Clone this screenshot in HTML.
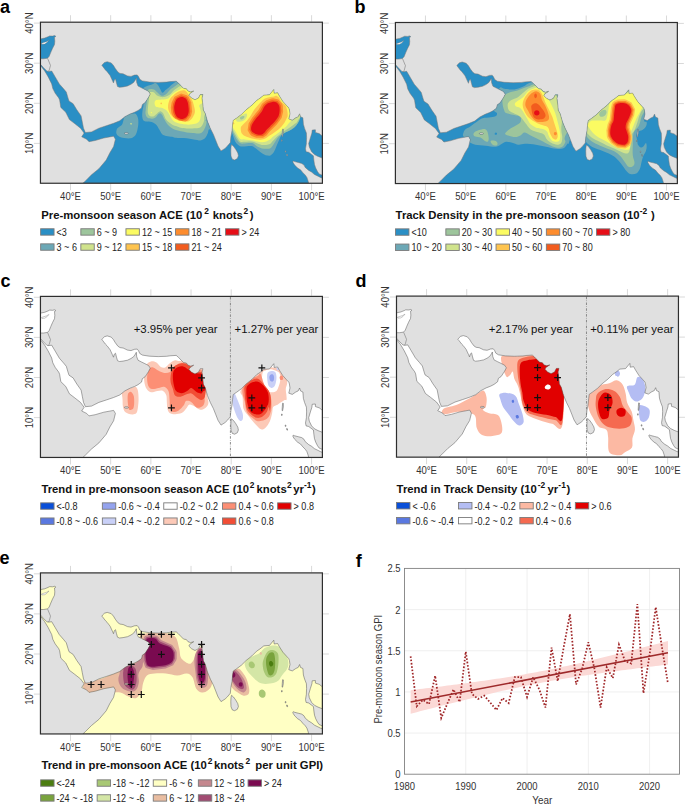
<!DOCTYPE html>
<html><head><meta charset="utf-8"><style>
html,body{margin:0;padding:0;background:#fff;}
body{width:685px;height:805px;overflow:hidden;font-family:"Liberation Sans",sans-serif;}
svg{display:block;}
</style></head><body>
<svg width="685" height="805" viewBox="0 0 685 805" font-family="Liberation Sans, sans-serif">
<defs><clipPath id="oca"><path clip-rule="evenodd" transform="translate(0 0)" d="M40.45 64.3 L43.6 67.8 L46.9 71.1 L48.8 71.4 L51.7 71 L55.2 76.9 L59.3 83.9 L63.4 88.6 L66.3 92.1 L68 97.9 L69 101 L73.1 103.7 L76.8 109.8 L81.1 115.9 L82.3 122.1 L83.5 128.2 L85.4 132.5 L91.5 131.9 L98.9 128.2 L106.2 125.8 L113.6 123.3 L119.7 120.8 L124.9 116.7 L130.1 114 L134.5 112.3 L138 110.5 L141.5 107.9 L142.4 104.4 L145 102.7 L146.8 100 L148.5 97.4 L150.3 93.9 L148.5 91.3 L145 89.5 L141.5 87.8 L138 86 L136.7 82.5 L136.3 78.1 L135.4 79.9 L133.6 82.5 L131 84.3 L127.5 86 L123.1 86.9 L119.5 87.3 L117.5 86.5 L116.5 83 L115.5 79 L114.3 80 L113.5 83 L112.4 80.5 L110.1 75.5 L107 71.5 L105.4 69.9 L102.8 66.5 L101.9 65.5 L102.5 64.4 L104.5 62.5 L107.2 61.7 L111.2 62.9 L113.5 65.5 L115.3 68.5 L117.9 72 L120 73.4 L123.1 73.8 L127.5 75.9 L131 76.4 L134.5 75.1 L137.2 74.9 L138.5 76.5 L139.8 79.3 L142.4 80.9 L149.4 82 L158.2 82.4 L166.7 82.1 L170 81.6 L176.2 81.2 L178.4 83.1 L181 85.8 L183.6 88.4 L186.3 88.8 L188 91 L190.6 91.9 L193.7 91 L189.8 93.6 L188.9 95.4 L191.5 98 L195 99.8 L198.5 98 L200.3 94.5 L202.9 94.5 L202 98 L202.9 105 L203.3 110 L205.2 113.4 L207.5 121.5 L210.4 128.5 L213.4 134.4 L215.7 140.2 L218 146.1 L221 150.9 L225 148.4 L227.4 146.1 L230.3 142.6 L230.9 136.7 L232 130.9 L232.6 125 L233.2 120.4 L236.7 118 L241.4 114.5 L246 109.9 L251.9 105.2 L256.6 100.5 L260 98.2 L263.8 95.2 L269.5 94.7 L273.8 89.5 L274.2 93.3 L277.6 92.8 L279.5 96.2 L282.8 101.4 L286.6 105.6 L288.8 108 L289.4 109.7 L290 113.8 L288.8 119 L292.3 120.2 L295.8 117.8 L298.2 116.7 L299.6 113.8 L300.5 116.7 L302.9 117.8 L303.4 124.3 L304.6 128.4 L306.4 133 L306.6 137.7 L306.4 142.4 L306.4 143.5 L305.5 148.8 L306.1 151.7 L308.7 152.3 L311 154 L313.4 155.8 L313.9 160.4 L314.5 164.5 L315.7 168 L317.5 171.5 L319.2 173.9 L322.4 175.2 L322.4 178.2 L320.4 177.4 L318 176.2 L314.5 174.5 L311.6 172.1 L308.7 170.4 L305.2 167.4 L304 165.1 L301.7 163.4 L298.2 162.5 L294.7 161.6 L293.2 161 L292.8 161.8 L293.2 162.8 L294.7 165.1 L297.6 168 L300.5 169.8 L302.9 172.7 L305.2 175 L306.9 177.4 L308.1 180.9 L308.7 183.25 L82.9 183.25 L85.4 180.9 L91.5 174.8 L98.9 168.7 L106.2 160.1 L109.9 152.7 L113.6 146.6 L115.4 139.2 L113.6 136.2 L103.8 138 L95.2 140.5 L89 141.7 L86.6 139.2 L81.7 136.8 L84.1 133.1 L80.5 128.2 L74.3 123.3 L69.4 119.6 L65.8 112.3 L60.8 107.4 L59.6 100 L58.7 97.9 L55.2 93.2 L52.8 88.6 L51.7 83.9 L48.2 76.9 L44.7 71 L41.2 66.4 L40.45 66.2Z M322.4 135.4 L321.5 135.4 L319.2 133.6 L315.4 132.4 L315.4 129.8 L312.2 130.1 L311.9 133 L310.4 137.7 L308.7 143.5 L309.3 147 L311.6 151.7 L314.5 154.6 L318 156.4 L322.4 158.1Z M40.45 38.9 L44.7 38.1 L48.1 36.7 L49.7 35.9 L52.5 36.1 L54.8 35.6 L55.9 36.4 L54.5 37.3 L54.8 41.2 L54.5 44.5 L52.5 48.4 L50.8 52.3 L49.2 56.3 L47.5 58.2 L43.6 58.8 L40.45 58.8Z M231.5 144.6 L233.5 146.3 L235.8 149.5 L237.8 153 L238.4 155.8 L237.3 158.6 L234.6 160 L232.3 159.2 L231 156 L230.8 151 L231 147Z M124.2 133.2 L125.5 132.5 L127.8 132.6 L128.6 133.4 L127.2 134.1 L125 134Z M282.6 129 L283.4 129.2 L283.3 133 L282.6 136.5 L282.1 136.4 L282.3 132.5Z M281.6 139.8 L282.2 139.9 L282.1 141.3 L281.5 141.2Z M285.3 150.8 L286 151 L285.8 152.3 L285.1 152Z M286.6 154.3 L287.4 154.5 L287.6 156 L286.8 155.8Z"/></clipPath>
<clipPath id="fra"><rect x="40.45" y="22.2" width="281.95" height="161.05"/></clipPath>
<clipPath id="ocb"><path clip-rule="evenodd" transform="translate(354.95 0.3)" d="M40.45 64.3 L43.6 67.8 L46.9 71.1 L48.8 71.4 L51.7 71 L55.2 76.9 L59.3 83.9 L63.4 88.6 L66.3 92.1 L68 97.9 L69 101 L73.1 103.7 L76.8 109.8 L81.1 115.9 L82.3 122.1 L83.5 128.2 L85.4 132.5 L91.5 131.9 L98.9 128.2 L106.2 125.8 L113.6 123.3 L119.7 120.8 L124.9 116.7 L130.1 114 L134.5 112.3 L138 110.5 L141.5 107.9 L142.4 104.4 L145 102.7 L146.8 100 L148.5 97.4 L150.3 93.9 L148.5 91.3 L145 89.5 L141.5 87.8 L138 86 L136.7 82.5 L136.3 78.1 L135.4 79.9 L133.6 82.5 L131 84.3 L127.5 86 L123.1 86.9 L119.5 87.3 L117.5 86.5 L116.5 83 L115.5 79 L114.3 80 L113.5 83 L112.4 80.5 L110.1 75.5 L107 71.5 L105.4 69.9 L102.8 66.5 L101.9 65.5 L102.5 64.4 L104.5 62.5 L107.2 61.7 L111.2 62.9 L113.5 65.5 L115.3 68.5 L117.9 72 L120 73.4 L123.1 73.8 L127.5 75.9 L131 76.4 L134.5 75.1 L137.2 74.9 L138.5 76.5 L139.8 79.3 L142.4 80.9 L149.4 82 L158.2 82.4 L166.7 82.1 L170 81.6 L176.2 81.2 L178.4 83.1 L181 85.8 L183.6 88.4 L186.3 88.8 L188 91 L190.6 91.9 L193.7 91 L189.8 93.6 L188.9 95.4 L191.5 98 L195 99.8 L198.5 98 L200.3 94.5 L202.9 94.5 L202 98 L202.9 105 L203.3 110 L205.2 113.4 L207.5 121.5 L210.4 128.5 L213.4 134.4 L215.7 140.2 L218 146.1 L221 150.9 L225 148.4 L227.4 146.1 L230.3 142.6 L230.9 136.7 L232 130.9 L232.6 125 L233.2 120.4 L236.7 118 L241.4 114.5 L246 109.9 L251.9 105.2 L256.6 100.5 L260 98.2 L263.8 95.2 L269.5 94.7 L273.8 89.5 L274.2 93.3 L277.6 92.8 L279.5 96.2 L282.8 101.4 L286.6 105.6 L288.8 108 L289.4 109.7 L290 113.8 L288.8 119 L292.3 120.2 L295.8 117.8 L298.2 116.7 L299.6 113.8 L300.5 116.7 L302.9 117.8 L303.4 124.3 L304.6 128.4 L306.4 133 L306.6 137.7 L306.4 142.4 L306.4 143.5 L305.5 148.8 L306.1 151.7 L308.7 152.3 L311 154 L313.4 155.8 L313.9 160.4 L314.5 164.5 L315.7 168 L317.5 171.5 L319.2 173.9 L322.4 175.2 L322.4 178.2 L320.4 177.4 L318 176.2 L314.5 174.5 L311.6 172.1 L308.7 170.4 L305.2 167.4 L304 165.1 L301.7 163.4 L298.2 162.5 L294.7 161.6 L293.2 161 L292.8 161.8 L293.2 162.8 L294.7 165.1 L297.6 168 L300.5 169.8 L302.9 172.7 L305.2 175 L306.9 177.4 L308.1 180.9 L308.7 183.25 L82.9 183.25 L85.4 180.9 L91.5 174.8 L98.9 168.7 L106.2 160.1 L109.9 152.7 L113.6 146.6 L115.4 139.2 L113.6 136.2 L103.8 138 L95.2 140.5 L89 141.7 L86.6 139.2 L81.7 136.8 L84.1 133.1 L80.5 128.2 L74.3 123.3 L69.4 119.6 L65.8 112.3 L60.8 107.4 L59.6 100 L58.7 97.9 L55.2 93.2 L52.8 88.6 L51.7 83.9 L48.2 76.9 L44.7 71 L41.2 66.4 L40.45 66.2Z M322.4 135.4 L321.5 135.4 L319.2 133.6 L315.4 132.4 L315.4 129.8 L312.2 130.1 L311.9 133 L310.4 137.7 L308.7 143.5 L309.3 147 L311.6 151.7 L314.5 154.6 L318 156.4 L322.4 158.1Z M40.45 38.9 L44.7 38.1 L48.1 36.7 L49.7 35.9 L52.5 36.1 L54.8 35.6 L55.9 36.4 L54.5 37.3 L54.8 41.2 L54.5 44.5 L52.5 48.4 L50.8 52.3 L49.2 56.3 L47.5 58.2 L43.6 58.8 L40.45 58.8Z M231.5 144.6 L233.5 146.3 L235.8 149.5 L237.8 153 L238.4 155.8 L237.3 158.6 L234.6 160 L232.3 159.2 L231 156 L230.8 151 L231 147Z M124.2 133.2 L125.5 132.5 L127.8 132.6 L128.6 133.4 L127.2 134.1 L125 134Z M282.6 129 L283.4 129.2 L283.3 133 L282.6 136.5 L282.1 136.4 L282.3 132.5Z M281.6 139.8 L282.2 139.9 L282.1 141.3 L281.5 141.2Z M285.3 150.8 L286 151 L285.8 152.3 L285.1 152Z M286.6 154.3 L287.4 154.5 L287.6 156 L286.8 155.8Z"/></clipPath>
<clipPath id="frb"><rect x="395.4" y="22.5" width="281.95" height="161.05"/></clipPath>
<clipPath id="occ"><path clip-rule="evenodd" transform="translate(0 274.2)" d="M40.45 64.3 L43.6 67.8 L46.9 71.1 L48.8 71.4 L51.7 71 L55.2 76.9 L59.3 83.9 L63.4 88.6 L66.3 92.1 L68 97.9 L69 101 L73.1 103.7 L76.8 109.8 L81.1 115.9 L82.3 122.1 L83.5 128.2 L85.4 132.5 L91.5 131.9 L98.9 128.2 L106.2 125.8 L113.6 123.3 L119.7 120.8 L124.9 116.7 L130.1 114 L134.5 112.3 L138 110.5 L141.5 107.9 L142.4 104.4 L145 102.7 L146.8 100 L148.5 97.4 L150.3 93.9 L148.5 91.3 L145 89.5 L141.5 87.8 L138 86 L136.7 82.5 L136.3 78.1 L135.4 79.9 L133.6 82.5 L131 84.3 L127.5 86 L123.1 86.9 L119.5 87.3 L117.5 86.5 L116.5 83 L115.5 79 L114.3 80 L113.5 83 L112.4 80.5 L110.1 75.5 L107 71.5 L105.4 69.9 L102.8 66.5 L101.9 65.5 L102.5 64.4 L104.5 62.5 L107.2 61.7 L111.2 62.9 L113.5 65.5 L115.3 68.5 L117.9 72 L120 73.4 L123.1 73.8 L127.5 75.9 L131 76.4 L134.5 75.1 L137.2 74.9 L138.5 76.5 L139.8 79.3 L142.4 80.9 L149.4 82 L158.2 82.4 L166.7 82.1 L170 81.6 L176.2 81.2 L178.4 83.1 L181 85.8 L183.6 88.4 L186.3 88.8 L188 91 L190.6 91.9 L193.7 91 L189.8 93.6 L188.9 95.4 L191.5 98 L195 99.8 L198.5 98 L200.3 94.5 L202.9 94.5 L202 98 L202.9 105 L203.3 110 L205.2 113.4 L207.5 121.5 L210.4 128.5 L213.4 134.4 L215.7 140.2 L218 146.1 L221 150.9 L225 148.4 L227.4 146.1 L230.3 142.6 L230.9 136.7 L232 130.9 L232.6 125 L233.2 120.4 L236.7 118 L241.4 114.5 L246 109.9 L251.9 105.2 L256.6 100.5 L260 98.2 L263.8 95.2 L269.5 94.7 L273.8 89.5 L274.2 93.3 L277.6 92.8 L279.5 96.2 L282.8 101.4 L286.6 105.6 L288.8 108 L289.4 109.7 L290 113.8 L288.8 119 L292.3 120.2 L295.8 117.8 L298.2 116.7 L299.6 113.8 L300.5 116.7 L302.9 117.8 L303.4 124.3 L304.6 128.4 L306.4 133 L306.6 137.7 L306.4 142.4 L306.4 143.5 L305.5 148.8 L306.1 151.7 L308.7 152.3 L311 154 L313.4 155.8 L313.9 160.4 L314.5 164.5 L315.7 168 L317.5 171.5 L319.2 173.9 L322.4 175.2 L322.4 178.2 L320.4 177.4 L318 176.2 L314.5 174.5 L311.6 172.1 L308.7 170.4 L305.2 167.4 L304 165.1 L301.7 163.4 L298.2 162.5 L294.7 161.6 L293.2 161 L292.8 161.8 L293.2 162.8 L294.7 165.1 L297.6 168 L300.5 169.8 L302.9 172.7 L305.2 175 L306.9 177.4 L308.1 180.9 L308.7 183.25 L82.9 183.25 L85.4 180.9 L91.5 174.8 L98.9 168.7 L106.2 160.1 L109.9 152.7 L113.6 146.6 L115.4 139.2 L113.6 136.2 L103.8 138 L95.2 140.5 L89 141.7 L86.6 139.2 L81.7 136.8 L84.1 133.1 L80.5 128.2 L74.3 123.3 L69.4 119.6 L65.8 112.3 L60.8 107.4 L59.6 100 L58.7 97.9 L55.2 93.2 L52.8 88.6 L51.7 83.9 L48.2 76.9 L44.7 71 L41.2 66.4 L40.45 66.2Z M322.4 135.4 L321.5 135.4 L319.2 133.6 L315.4 132.4 L315.4 129.8 L312.2 130.1 L311.9 133 L310.4 137.7 L308.7 143.5 L309.3 147 L311.6 151.7 L314.5 154.6 L318 156.4 L322.4 158.1Z M40.45 38.9 L44.7 38.1 L48.1 36.7 L49.7 35.9 L52.5 36.1 L54.8 35.6 L55.9 36.4 L54.5 37.3 L54.8 41.2 L54.5 44.5 L52.5 48.4 L50.8 52.3 L49.2 56.3 L47.5 58.2 L43.6 58.8 L40.45 58.8Z M231.5 144.6 L233.5 146.3 L235.8 149.5 L237.8 153 L238.4 155.8 L237.3 158.6 L234.6 160 L232.3 159.2 L231 156 L230.8 151 L231 147Z M124.2 133.2 L125.5 132.5 L127.8 132.6 L128.6 133.4 L127.2 134.1 L125 134Z M282.6 129 L283.4 129.2 L283.3 133 L282.6 136.5 L282.1 136.4 L282.3 132.5Z M281.6 139.8 L282.2 139.9 L282.1 141.3 L281.5 141.2Z M285.3 150.8 L286 151 L285.8 152.3 L285.1 152Z M286.6 154.3 L287.4 154.5 L287.6 156 L286.8 155.8Z"/></clipPath>
<clipPath id="frc"><rect x="40.45" y="296.4" width="281.95" height="161.05"/></clipPath>
<clipPath id="ocd"><path clip-rule="evenodd" transform="translate(356.05 273.9)" d="M40.45 64.3 L43.6 67.8 L46.9 71.1 L48.8 71.4 L51.7 71 L55.2 76.9 L59.3 83.9 L63.4 88.6 L66.3 92.1 L68 97.9 L69 101 L73.1 103.7 L76.8 109.8 L81.1 115.9 L82.3 122.1 L83.5 128.2 L85.4 132.5 L91.5 131.9 L98.9 128.2 L106.2 125.8 L113.6 123.3 L119.7 120.8 L124.9 116.7 L130.1 114 L134.5 112.3 L138 110.5 L141.5 107.9 L142.4 104.4 L145 102.7 L146.8 100 L148.5 97.4 L150.3 93.9 L148.5 91.3 L145 89.5 L141.5 87.8 L138 86 L136.7 82.5 L136.3 78.1 L135.4 79.9 L133.6 82.5 L131 84.3 L127.5 86 L123.1 86.9 L119.5 87.3 L117.5 86.5 L116.5 83 L115.5 79 L114.3 80 L113.5 83 L112.4 80.5 L110.1 75.5 L107 71.5 L105.4 69.9 L102.8 66.5 L101.9 65.5 L102.5 64.4 L104.5 62.5 L107.2 61.7 L111.2 62.9 L113.5 65.5 L115.3 68.5 L117.9 72 L120 73.4 L123.1 73.8 L127.5 75.9 L131 76.4 L134.5 75.1 L137.2 74.9 L138.5 76.5 L139.8 79.3 L142.4 80.9 L149.4 82 L158.2 82.4 L166.7 82.1 L170 81.6 L176.2 81.2 L178.4 83.1 L181 85.8 L183.6 88.4 L186.3 88.8 L188 91 L190.6 91.9 L193.7 91 L189.8 93.6 L188.9 95.4 L191.5 98 L195 99.8 L198.5 98 L200.3 94.5 L202.9 94.5 L202 98 L202.9 105 L203.3 110 L205.2 113.4 L207.5 121.5 L210.4 128.5 L213.4 134.4 L215.7 140.2 L218 146.1 L221 150.9 L225 148.4 L227.4 146.1 L230.3 142.6 L230.9 136.7 L232 130.9 L232.6 125 L233.2 120.4 L236.7 118 L241.4 114.5 L246 109.9 L251.9 105.2 L256.6 100.5 L260 98.2 L263.8 95.2 L269.5 94.7 L273.8 89.5 L274.2 93.3 L277.6 92.8 L279.5 96.2 L282.8 101.4 L286.6 105.6 L288.8 108 L289.4 109.7 L290 113.8 L288.8 119 L292.3 120.2 L295.8 117.8 L298.2 116.7 L299.6 113.8 L300.5 116.7 L302.9 117.8 L303.4 124.3 L304.6 128.4 L306.4 133 L306.6 137.7 L306.4 142.4 L306.4 143.5 L305.5 148.8 L306.1 151.7 L308.7 152.3 L311 154 L313.4 155.8 L313.9 160.4 L314.5 164.5 L315.7 168 L317.5 171.5 L319.2 173.9 L322.4 175.2 L322.4 178.2 L320.4 177.4 L318 176.2 L314.5 174.5 L311.6 172.1 L308.7 170.4 L305.2 167.4 L304 165.1 L301.7 163.4 L298.2 162.5 L294.7 161.6 L293.2 161 L292.8 161.8 L293.2 162.8 L294.7 165.1 L297.6 168 L300.5 169.8 L302.9 172.7 L305.2 175 L306.9 177.4 L308.1 180.9 L308.7 183.25 L82.9 183.25 L85.4 180.9 L91.5 174.8 L98.9 168.7 L106.2 160.1 L109.9 152.7 L113.6 146.6 L115.4 139.2 L113.6 136.2 L103.8 138 L95.2 140.5 L89 141.7 L86.6 139.2 L81.7 136.8 L84.1 133.1 L80.5 128.2 L74.3 123.3 L69.4 119.6 L65.8 112.3 L60.8 107.4 L59.6 100 L58.7 97.9 L55.2 93.2 L52.8 88.6 L51.7 83.9 L48.2 76.9 L44.7 71 L41.2 66.4 L40.45 66.2Z M322.4 135.4 L321.5 135.4 L319.2 133.6 L315.4 132.4 L315.4 129.8 L312.2 130.1 L311.9 133 L310.4 137.7 L308.7 143.5 L309.3 147 L311.6 151.7 L314.5 154.6 L318 156.4 L322.4 158.1Z M40.45 38.9 L44.7 38.1 L48.1 36.7 L49.7 35.9 L52.5 36.1 L54.8 35.6 L55.9 36.4 L54.5 37.3 L54.8 41.2 L54.5 44.5 L52.5 48.4 L50.8 52.3 L49.2 56.3 L47.5 58.2 L43.6 58.8 L40.45 58.8Z M231.5 144.6 L233.5 146.3 L235.8 149.5 L237.8 153 L238.4 155.8 L237.3 158.6 L234.6 160 L232.3 159.2 L231 156 L230.8 151 L231 147Z M124.2 133.2 L125.5 132.5 L127.8 132.6 L128.6 133.4 L127.2 134.1 L125 134Z M282.6 129 L283.4 129.2 L283.3 133 L282.6 136.5 L282.1 136.4 L282.3 132.5Z M281.6 139.8 L282.2 139.9 L282.1 141.3 L281.5 141.2Z M285.3 150.8 L286 151 L285.8 152.3 L285.1 152Z M286.6 154.3 L287.4 154.5 L287.6 156 L286.8 155.8Z"/></clipPath>
<clipPath id="frd"><rect x="396.5" y="296.1" width="281.95" height="161.05"/></clipPath>
<clipPath id="oce"><path clip-rule="evenodd" transform="translate(0 550.7)" d="M40.45 64.3 L43.6 67.8 L46.9 71.1 L48.8 71.4 L51.7 71 L55.2 76.9 L59.3 83.9 L63.4 88.6 L66.3 92.1 L68 97.9 L69 101 L73.1 103.7 L76.8 109.8 L81.1 115.9 L82.3 122.1 L83.5 128.2 L85.4 132.5 L91.5 131.9 L98.9 128.2 L106.2 125.8 L113.6 123.3 L119.7 120.8 L124.9 116.7 L130.1 114 L134.5 112.3 L138 110.5 L141.5 107.9 L142.4 104.4 L145 102.7 L146.8 100 L148.5 97.4 L150.3 93.9 L148.5 91.3 L145 89.5 L141.5 87.8 L138 86 L136.7 82.5 L136.3 78.1 L135.4 79.9 L133.6 82.5 L131 84.3 L127.5 86 L123.1 86.9 L119.5 87.3 L117.5 86.5 L116.5 83 L115.5 79 L114.3 80 L113.5 83 L112.4 80.5 L110.1 75.5 L107 71.5 L105.4 69.9 L102.8 66.5 L101.9 65.5 L102.5 64.4 L104.5 62.5 L107.2 61.7 L111.2 62.9 L113.5 65.5 L115.3 68.5 L117.9 72 L120 73.4 L123.1 73.8 L127.5 75.9 L131 76.4 L134.5 75.1 L137.2 74.9 L138.5 76.5 L139.8 79.3 L142.4 80.9 L149.4 82 L158.2 82.4 L166.7 82.1 L170 81.6 L176.2 81.2 L178.4 83.1 L181 85.8 L183.6 88.4 L186.3 88.8 L188 91 L190.6 91.9 L193.7 91 L189.8 93.6 L188.9 95.4 L191.5 98 L195 99.8 L198.5 98 L200.3 94.5 L202.9 94.5 L202 98 L202.9 105 L203.3 110 L205.2 113.4 L207.5 121.5 L210.4 128.5 L213.4 134.4 L215.7 140.2 L218 146.1 L221 150.9 L225 148.4 L227.4 146.1 L230.3 142.6 L230.9 136.7 L232 130.9 L232.6 125 L233.2 120.4 L236.7 118 L241.4 114.5 L246 109.9 L251.9 105.2 L256.6 100.5 L260 98.2 L263.8 95.2 L269.5 94.7 L273.8 89.5 L274.2 93.3 L277.6 92.8 L279.5 96.2 L282.8 101.4 L286.6 105.6 L288.8 108 L289.4 109.7 L290 113.8 L288.8 119 L292.3 120.2 L295.8 117.8 L298.2 116.7 L299.6 113.8 L300.5 116.7 L302.9 117.8 L303.4 124.3 L304.6 128.4 L306.4 133 L306.6 137.7 L306.4 142.4 L306.4 143.5 L305.5 148.8 L306.1 151.7 L308.7 152.3 L311 154 L313.4 155.8 L313.9 160.4 L314.5 164.5 L315.7 168 L317.5 171.5 L319.2 173.9 L322.4 175.2 L322.4 178.2 L320.4 177.4 L318 176.2 L314.5 174.5 L311.6 172.1 L308.7 170.4 L305.2 167.4 L304 165.1 L301.7 163.4 L298.2 162.5 L294.7 161.6 L293.2 161 L292.8 161.8 L293.2 162.8 L294.7 165.1 L297.6 168 L300.5 169.8 L302.9 172.7 L305.2 175 L306.9 177.4 L308.1 180.9 L308.7 183.25 L82.9 183.25 L85.4 180.9 L91.5 174.8 L98.9 168.7 L106.2 160.1 L109.9 152.7 L113.6 146.6 L115.4 139.2 L113.6 136.2 L103.8 138 L95.2 140.5 L89 141.7 L86.6 139.2 L81.7 136.8 L84.1 133.1 L80.5 128.2 L74.3 123.3 L69.4 119.6 L65.8 112.3 L60.8 107.4 L59.6 100 L58.7 97.9 L55.2 93.2 L52.8 88.6 L51.7 83.9 L48.2 76.9 L44.7 71 L41.2 66.4 L40.45 66.2Z M322.4 135.4 L321.5 135.4 L319.2 133.6 L315.4 132.4 L315.4 129.8 L312.2 130.1 L311.9 133 L310.4 137.7 L308.7 143.5 L309.3 147 L311.6 151.7 L314.5 154.6 L318 156.4 L322.4 158.1Z M40.45 38.9 L44.7 38.1 L48.1 36.7 L49.7 35.9 L52.5 36.1 L54.8 35.6 L55.9 36.4 L54.5 37.3 L54.8 41.2 L54.5 44.5 L52.5 48.4 L50.8 52.3 L49.2 56.3 L47.5 58.2 L43.6 58.8 L40.45 58.8Z M231.5 144.6 L233.5 146.3 L235.8 149.5 L237.8 153 L238.4 155.8 L237.3 158.6 L234.6 160 L232.3 159.2 L231 156 L230.8 151 L231 147Z M124.2 133.2 L125.5 132.5 L127.8 132.6 L128.6 133.4 L127.2 134.1 L125 134Z M282.6 129 L283.4 129.2 L283.3 133 L282.6 136.5 L282.1 136.4 L282.3 132.5Z M281.6 139.8 L282.2 139.9 L282.1 141.3 L281.5 141.2Z M285.3 150.8 L286 151 L285.8 152.3 L285.1 152Z M286.6 154.3 L287.4 154.5 L287.6 156 L286.8 155.8Z"/></clipPath>
<clipPath id="fre"><rect x="40.45" y="572.9" width="281.95" height="161.05"/></clipPath></defs>
<rect x="40.45" y="22.2" width="281.95" height="161.05" fill="#e0e0e0"/>
<g clip-path="url(#oca)">
<rect x="40.45" y="22.2" width="281.95" height="161.05" fill="#2a8fc5"/>
<path fill="#6ca8b6" d="M143 88.5 C143.83 87.58 144.92 87.03 146 86.5 C147.08 85.97 148.33 85.72 149.5 85.3 C150.67 84.88 152 84.38 153 84 C154 83.62 154.75 82.92 155.5 83 C156.25 83.08 156.85 83.77 157.5 84.5 C158.15 85.23 158.78 86.32 159.4 87.4 C160.02 88.48 160.72 90.1 161.2 91 C161.68 91.9 161.87 92.63 162.3 92.8 C162.73 92.97 163.32 92.42 163.8 92 C164.28 91.58 164.58 90.88 165.2 90.3 C165.82 89.72 166.77 89.1 167.5 88.5 C168.23 87.9 168.85 87.37 169.6 86.7 C170.35 86.03 171.27 85.12 172 84.5 C172.73 83.88 173.33 83.55 174 83 C174.67 82.45 175 81.87 176 81.2 C177 80.53 176 78.37 180 79 C184 79.63 194.17 79.83 200 85 C205.83 90.17 213 102.83 215 110 C217 117.17 213.02 124.75 212 128 C210.98 131.25 209.62 128.57 208.9 129.5 C208.18 130.43 208.28 132.23 207.7 133.6 C207.12 134.97 206.28 136.68 205.4 137.7 C204.52 138.72 203.28 139.22 202.4 139.7 C201.52 140.18 200.97 140.55 200.1 140.6 C199.23 140.65 198.47 140.23 197.2 140 C195.93 139.77 194.25 139.48 192.5 139.2 C190.75 138.92 188.65 138.5 186.7 138.3 C184.75 138.1 182.75 138.1 180.8 138 C178.85 137.9 176.45 137.9 175 137.7 C173.55 137.5 173.55 137.1 172.1 136.8 C170.65 136.5 167.95 136.33 166.3 135.9 C164.65 135.47 163.37 135.27 162.2 134.2 C161.03 133.13 160.27 131.05 159.3 129.5 C158.33 127.95 157.67 126.17 156.4 124.9 C155.13 123.63 153.47 122.48 151.7 121.9 C149.93 121.32 147.2 121.67 145.8 121.4 C144.4 121.13 143.9 121.2 143.3 120.3 C142.7 119.4 142.32 117.72 142.2 116 C142.08 114.28 142.38 112 142.6 110 C142.82 108 143.93 105.67 143.5 104 C143.07 102.33 140.42 102 140 100 C139.58 98 140.5 93.92 141 92 C141.5 90.08 142.17 89.42 143 88.5Z"/>
<path fill="#6ca8b6" d="M116.8 129.2 C117.23 128.1 118.15 127.73 119 127 C119.85 126.27 121.17 125.9 121.9 124.8 C122.63 123.7 123.03 121.62 123.4 120.4 C123.77 119.18 123.67 118.57 124.1 117.5 C124.53 116.43 124.85 115 126 114 C127.15 113 129.98 111.57 131 111.5 C132.02 111.43 131.3 113.2 132.1 113.6 C132.9 114 134.82 113.13 135.8 113.9 C136.78 114.67 137.58 116.5 138 118.2 C138.42 119.9 138.43 122.02 138.3 124.1 C138.17 126.18 137.75 128.75 137.2 130.7 C136.65 132.65 136.08 134.53 135 135.8 C133.92 137.07 132.52 137.93 130.7 138.3 C128.88 138.67 126.05 138.3 124.1 138 C122.15 137.7 120.28 137.23 119 136.5 C117.72 135.77 116.77 134.82 116.4 133.6 C116.03 132.38 116.37 130.3 116.8 129.2Z"/>
<path fill="#d0e38c" d="M130.4 123.3 C130.57 123.08 131.15 122.9 131.4 123 C131.65 123.1 131.93 123.63 131.9 123.9 C131.87 124.17 131.45 124.53 131.2 124.6 C130.95 124.67 130.53 124.52 130.4 124.3 C130.27 124.08 130.23 123.52 130.4 123.3Z"/>
<path fill="#9dc59c" d="M147.5 90.5 C148.12 89.33 149.82 89.17 150.9 89 C151.98 88.83 152.9 88.92 154 89.5 C155.1 90.08 156.23 91.45 157.5 92.5 C158.77 93.55 160.18 95.5 161.6 95.8 C163.02 96.1 164.55 95.33 166 94.3 C167.45 93.27 168.73 90.98 170.3 89.6 C171.87 88.22 174.05 86.97 175.4 86 C176.75 85.03 177.3 84.47 178.4 83.8 C179.5 83.13 178.4 81.3 182 82 C185.6 82.7 195 83 200 88 C205 93 211.02 106.73 212 112 C212.98 117.27 206.82 117.95 205.9 119.6 C204.98 121.25 206.5 120.93 206.5 121.9 C206.5 122.87 206.28 124.13 205.9 125.4 C205.52 126.67 204.87 128.33 204.2 129.5 C203.53 130.67 202.87 131.72 201.9 132.4 C200.93 133.08 199.97 133.5 198.4 133.6 C196.83 133.7 194.45 133.2 192.5 133 C190.55 132.8 188.65 132.68 186.7 132.4 C184.75 132.12 182.75 131.73 180.8 131.3 C178.85 130.87 176.65 130.43 175 129.8 C173.35 129.17 172.17 128.42 170.9 127.5 C169.63 126.58 168.47 125.62 167.4 124.3 C166.33 122.98 165.37 121.17 164.5 119.6 C163.63 118.03 162.93 115.97 162.2 114.9 C161.47 113.83 160.78 113.3 160.1 113.2 C159.42 113.1 158.82 113.62 158.1 114.3 C157.38 114.98 156.77 116.57 155.8 117.3 C154.83 118.03 153.67 118.62 152.3 118.7 C150.93 118.78 148.72 118.53 147.6 117.8 C146.48 117.07 145.9 115.77 145.6 114.3 C145.3 112.83 145.6 111.05 145.8 109 C146 106.95 146.57 104.17 146.8 102 C147.03 99.83 147.08 97.92 147.2 96 C147.32 94.08 146.88 91.67 147.5 90.5Z"/>
<path fill="#d0e38c" d="M149.4 93 C149.8 91.83 150.63 92.08 151.4 92 C152.17 91.92 153.07 91.92 154 92.5 C154.93 93.08 155.92 94.78 157 95.5 C158.08 96.22 159.33 96.55 160.5 96.8 C161.67 97.05 162.48 97.35 164 97 C165.52 96.65 167.93 95.82 169.6 94.7 C171.27 93.58 172.53 91.58 174 90.3 C175.47 89.02 177.32 87.72 178.4 87 C179.48 86.28 179.57 86.5 180.5 86 C181.43 85.5 180.75 83.67 184 84 C187.25 84.33 196.33 84 200 88 C203.67 92 205.3 103.22 206 108 C206.7 112.78 204.5 114.67 204.2 116.7 C203.9 118.73 204.4 119.03 204.2 120.2 C204 121.37 203.48 122.63 203 123.7 C202.52 124.77 202.07 125.87 201.3 126.6 C200.53 127.33 199.87 127.8 198.4 128.1 C196.93 128.4 194.45 128.35 192.5 128.4 C190.55 128.45 188.65 128.5 186.7 128.4 C184.75 128.3 182.45 128.15 180.8 127.8 C179.15 127.45 178.15 126.78 176.8 126.3 C175.45 125.82 173.97 125.53 172.7 124.9 C171.43 124.27 170.37 123.48 169.2 122.5 C168.03 121.52 166.67 120.45 165.7 119 C164.73 117.55 164.18 115.07 163.4 113.8 C162.62 112.53 161.78 111.7 161 111.4 C160.22 111.1 159.47 111.52 158.7 112 C157.93 112.48 157.28 113.57 156.4 114.3 C155.52 115.03 154.48 116.1 153.4 116.4 C152.32 116.7 150.83 116.73 149.9 116.1 C148.97 115.47 148.08 114.45 147.8 112.6 C147.52 110.75 148 107.27 148.2 105 C148.4 102.73 148.8 101 149 99 C149.2 97 149 94.17 149.4 93Z"/>
<path fill="#fbfb62" d="M155.5 100.5 C156.23 99.88 157.87 99.95 159 99.8 C160.13 99.65 160.78 99.83 162.3 99.6 C163.82 99.37 166.4 99.33 168.1 98.4 C169.8 97.47 171.03 95.22 172.5 94 C173.97 92.78 175.57 91.95 176.9 91.1 C178.23 90.25 179.53 89.4 180.5 88.9 C181.47 88.4 181.78 88.58 182.7 88.1 C183.62 87.62 184.45 86.02 186 86 C187.55 85.98 188.83 85.67 192 88 C195.17 90.33 203.75 97.17 205 100 C206.25 102.83 200.32 103.58 199.5 105 C198.68 106.42 199.85 107.23 200.1 108.5 C200.35 109.77 200.9 111.23 201 112.6 C201.1 113.97 200.95 115.33 200.7 116.7 C200.45 118.07 200.08 119.73 199.5 120.8 C198.92 121.87 198.37 122.52 197.2 123.1 C196.03 123.68 194.25 124.05 192.5 124.3 C190.75 124.55 188.65 124.7 186.7 124.6 C184.75 124.5 182.75 124.15 180.8 123.7 C178.85 123.25 176.55 122.78 175 121.9 C173.45 121.02 172.47 119.67 171.5 118.4 C170.53 117.13 169.97 115.57 169.2 114.3 C168.43 113.03 167.87 111.77 166.9 110.8 C165.93 109.83 164.72 109.03 163.4 108.5 C162.08 107.97 160.27 107.92 159 107.6 C157.73 107.28 156.53 107.28 155.8 106.6 C155.07 105.92 154.65 104.52 154.6 103.5 C154.55 102.48 154.77 101.12 155.5 100.5Z"/>
<path fill="#fbfb62" d="M150.9 112.2 C151.02 112.02 151.4 111.83 151.6 111.9 C151.8 111.97 152.12 112.38 152.1 112.6 C152.08 112.82 151.7 113.13 151.5 113.2 C151.3 113.27 151 113.17 150.9 113 C150.8 112.83 150.78 112.38 150.9 112.2Z"/>
<path fill="#fec44f" d="M170 99 C170.85 97.4 172.05 96.48 173.2 95.4 C174.35 94.32 175.68 93.28 176.9 92.5 C178.12 91.72 179.28 91.07 180.5 90.7 C181.72 90.33 183.22 90.12 184.2 90.3 C185.18 90.48 185.52 90.85 186.4 91.8 C187.28 92.75 188.48 94.47 189.5 96 C190.52 97.53 191.7 99.12 192.5 101 C193.3 102.88 193.9 105.47 194.3 107.3 C194.7 109.13 195.1 110.43 194.9 112 C194.7 113.57 193.88 115.33 193.1 116.7 C192.32 118.07 191.27 119.38 190.2 120.2 C189.13 121.02 188.45 121.5 186.7 121.6 C184.95 121.7 181.65 121.33 179.7 120.8 C177.75 120.27 176.45 119.37 175 118.4 C173.55 117.43 172.08 116.4 171 115 C169.92 113.6 168.98 111.67 168.5 110 C168.02 108.33 167.85 106.83 168.1 105 C168.35 103.17 169.15 100.6 170 99Z"/>
<path fill="#fd8c2e" d="M170.83 107.56 L171.43 112.95 L173.06 116.75 L175 118.4 L179.7 120.8 L185.45 121.46 L186.71 120.98 L188.16 119.91 L191.09 115.77 L192.1 111.4 L191.16 102.19 L188.76 96.91 L186.8 95.18 L181.07 93.51 L174.43 96.76 L171.58 102.85Z"/>
<path fill="#f25c1e" d="M172.61 107.79 L173.21 112.71 L175.36 117.39 L178.89 119.78 L182.33 120.48 L186.07 119.3 L189.35 115.31 L190.3 111.45 L189.38 102.46 L187.14 97.7 L186.22 96.89 L181.19 95.3 L175.74 98 L173.23 103.57Z"/>
<path fill="#e60e17" d="M174.7 104.2 C175.15 102.72 175.8 100.32 176.9 99.1 C178 97.88 179.83 97.02 181.3 96.9 C182.77 96.78 184.62 97.43 185.7 98.4 C186.78 99.37 187.32 101.1 187.8 102.7 C188.28 104.3 188.45 106.53 188.6 108 C188.75 109.47 188.83 110.35 188.7 111.5 C188.57 112.65 188.33 113.85 187.8 114.9 C187.27 115.95 186.37 117.13 185.5 117.8 C184.63 118.47 183.57 118.8 182.6 118.9 C181.63 119 180.67 118.77 179.7 118.4 C178.73 118.03 177.62 117.68 176.8 116.7 C175.98 115.72 175.23 113.95 174.8 112.5 C174.37 111.05 174.22 109.38 174.2 108 C174.18 106.62 174.25 105.68 174.7 104.2Z"/>
<path fill="#fec44f" d="M160.4 103.1 C160.47 102.83 160.93 102.6 161.2 102.6 C161.47 102.6 161.9 102.87 162 103.1 C162.1 103.33 162 103.82 161.8 104 C161.6 104.18 161.03 104.35 160.8 104.2 C160.57 104.05 160.33 103.37 160.4 103.1Z"/>
<path fill="#6ca8b6" d="M232.3 133.5 C233.38 136.33 234.22 139.88 235.5 142 C236.78 144.12 238.52 145.47 240 146.2 C241.48 146.93 242.93 146.42 244.4 146.4 C245.87 146.38 247.57 146.17 248.8 146.1 C250.03 146.03 250.85 145.77 251.8 146 C252.75 146.23 253.55 146.88 254.5 147.5 C255.45 148.12 256.48 148.9 257.5 149.7 C258.52 150.5 259.5 151.5 260.6 152.3 C261.7 153.1 263 153.95 264.1 154.5 C265.2 155.05 266.08 155.48 267.2 155.6 C268.32 155.72 269.62 155.93 270.8 155.2 C271.98 154.47 273.13 153.23 274.3 151.2 C275.47 149.17 276.43 145.92 277.8 143 C279.17 140.08 280.55 135.73 282.5 133.7 C284.45 131.67 287.27 132.07 289.5 130.8 C291.73 129.53 294.15 128.35 295.9 126.1 C297.65 123.85 298.32 121.65 300 117.3 C301.68 112.95 309.33 104.88 306 100 C302.67 95.12 291 88 280 88 C269 88 248.5 93.83 240 100 C231.5 106.17 230.28 119.42 229 125 C227.72 130.58 231.22 130.67 232.3 133.5Z"/>
<path fill="#9dc59c" d="M232.3 130.5 C233.43 133.17 234.52 135.9 235.8 138 C237.08 140.1 238.57 142.17 240 143.1 C241.43 144.03 242.93 143.6 244.4 143.6 C245.87 143.6 247.48 143.18 248.8 143.1 C250.12 143.02 251.22 142.8 252.3 143.1 C253.38 143.4 254.28 144.23 255.3 144.9 C256.32 145.57 257.3 146.52 258.4 147.1 C259.5 147.68 260.58 148.12 261.9 148.4 C263.22 148.68 264.95 148.8 266.3 148.8 C267.65 148.8 268.97 148.87 270 148.4 C271.03 147.93 271.58 147.18 272.5 146 C273.42 144.82 274.42 142.87 275.5 141.3 C276.58 139.73 277.35 138.07 279 136.6 C280.65 135.13 283.35 133.67 285.4 132.5 C287.45 131.33 289.45 130.87 291.3 129.6 C293.15 128.33 295.05 126.75 296.5 124.9 C297.95 123.05 298.58 122.65 300 118.5 C301.42 114.35 308.33 105.08 305 100 C301.67 94.92 290.83 88 280 88 C269.17 88 248.5 94.33 240 100 C231.5 105.67 230.28 116.92 229 122 C227.72 127.08 231.17 127.83 232.3 130.5Z"/>
<path fill="#d0e38c" d="M232.3 128.5 C233.47 131.08 234.72 133.35 236 135.5 C237.28 137.65 238.6 140.35 240 141.4 C241.4 142.45 242.93 141.8 244.4 141.8 C245.87 141.8 247.35 141.4 248.8 141.4 C250.25 141.4 251.65 141.43 253.1 141.8 C254.55 142.17 256.03 143.08 257.5 143.6 C258.97 144.12 260.43 144.68 261.9 144.9 C263.37 145.12 264.95 145.05 266.3 144.9 C267.65 144.75 268.97 144.6 270 144 C271.03 143.4 271.2 142.63 272.5 141.3 C273.8 139.97 275.93 137.65 277.8 136 C279.67 134.35 281.75 132.77 283.7 131.4 C285.65 130.03 287.75 128.98 289.5 127.8 C291.25 126.62 292.83 125.47 294.2 124.3 C295.57 123.13 296.73 123.18 297.7 120.8 C298.67 118.42 302.95 115.47 300 110 C297.05 104.53 290 89.67 280 88 C270 86.33 248.5 94.67 240 100 C231.5 105.33 230.28 115.25 229 120 C227.72 124.75 231.13 125.92 232.3 128.5Z"/>
<path fill="#fbfb62" d="M232.3 126.5 C233.6 128.83 234.52 129.95 235.8 132 C237.08 134.05 238.57 137.57 240 138.8 C241.43 140.03 242.93 139.22 244.4 139.4 C245.87 139.58 247.35 139.72 248.8 139.9 C250.25 140.08 251.65 140.22 253.1 140.5 C254.55 140.78 256.03 141.3 257.5 141.6 C258.97 141.9 260.43 142.33 261.9 142.3 C263.37 142.27 264.95 141.85 266.3 141.4 C267.65 140.95 268.85 140.4 270 139.6 C271.15 138.8 271.5 137.97 273.2 136.6 C274.9 135.23 278.07 133.05 280.2 131.4 C282.33 129.75 284.45 128.17 286 126.7 C287.55 125.23 288.72 123.58 289.5 122.6 C290.28 121.62 290.28 122.9 290.7 120.8 C291.12 118.7 293.78 115.13 292 110 C290.22 104.87 287 92.5 280 90 C273 87.5 258.67 90.33 250 95 C241.33 99.67 230.95 112.75 228 118 C225.05 123.25 231 124.17 232.3 126.5Z"/>
<path fill="#d0e38c" d="M236 118.5 C236.33 117.67 237.83 117.17 239 116.5 C240.17 115.83 241.75 115 243 114.5 C244.25 114 245.83 113.25 246.5 113.5 C247.17 113.75 247.25 115 247 116 C246.75 117 246 118.58 245 119.5 C244 120.42 242.33 121.17 241 121.5 C239.67 121.83 237.83 122 237 121.5 C236.17 121 235.67 119.33 236 118.5Z"/>
<path fill="#9dc59c" d="M240 117.5 C240.33 116.92 242.25 116.17 243 116 C243.75 115.83 244.42 116.08 244.5 116.5 C244.58 116.92 244.08 118 243.5 118.5 C242.92 119 241.58 119.67 241 119.5 C240.42 119.33 239.67 118.08 240 117.5Z"/>
<path fill="#fec44f" d="M240.8 127.8 C240.98 126.48 241.8 126.05 242.6 125.1 C243.4 124.15 244.65 123.12 245.6 122.1 C246.55 121.08 247.33 120.27 248.3 119 C249.27 117.73 250.37 116.12 251.4 114.5 C252.43 112.88 253.4 110.83 254.5 109.3 C255.6 107.77 256.83 106.62 258 105.3 C259.17 103.98 260.33 102.52 261.5 101.4 C262.67 100.28 263.68 99.3 265 98.6 C266.32 97.9 267.9 97.55 269.4 97.2 C270.9 96.85 272.8 96.73 274 96.5 C275.2 96.27 275.68 95.48 276.6 95.8 C277.52 96.12 278.72 97.47 279.5 98.4 C280.28 99.33 280.32 100.23 281.3 101.4 C282.28 102.57 284.43 103.95 285.4 105.4 C286.37 106.85 286.72 108.43 287.1 110.1 C287.48 111.77 287.78 114 287.7 115.4 C287.62 116.8 287.27 117.1 286.6 118.5 C285.93 119.9 284.97 122.05 283.7 123.8 C282.43 125.55 280.85 127.35 279 129 C277.15 130.65 274.1 132.65 272.6 133.7 C271.1 134.75 271.05 134.6 270 135.3 C268.95 136 267.65 137.22 266.3 137.9 C264.95 138.58 263.37 139.12 261.9 139.4 C260.43 139.68 258.97 139.7 257.5 139.6 C256.03 139.5 254.55 139.17 253.1 138.8 C251.65 138.43 250.25 137.92 248.8 137.4 C247.35 136.88 245.62 136.43 244.4 135.7 C243.18 134.97 242.1 134.32 241.5 133 C240.9 131.68 240.62 129.12 240.8 127.8Z"/>
<path fill="#fd8c2e" d="M250.07 134.55 L251.74 135.93 L256.14 137.73 L262.97 137.84 L266.55 135.56 L269.06 132.34 L276.6 124.86 L281.61 117.98 L283.13 111.71 L282.79 105.71 L282.09 103.85 L278.45 99.41 L273.02 98.34 L271.47 98.45 L266.3 100.25 L261.99 103.83 L258.46 109.94 L252.3 117.4 L248.67 123.33 L247.58 130.24Z"/>
<path fill="#f25c1e" d="M251.59 133.58 L256.82 136.07 L262.92 135.88 L265.98 133.62 L267.68 131.17 L275.07 123.87 L277.7 120.63 L280.37 116.35 L281.39 110.86 L280.64 104.93 L277.52 100.95 L271.98 100.18 L267.4 101.67 L263.49 104.81 L259.98 110.92 L253.8 118.4 L250.23 124.21 L249.34 129.87Z"/>
<path fill="#e60e17" d="M251.1 129.5 C250.88 128.25 251.4 126.33 251.8 125.1 C252.2 123.87 252.92 123.05 253.5 122.1 C254.08 121.15 254.72 120.2 255.3 119.4 C255.88 118.6 256.55 117.82 257 117.3 C257.45 116.78 257.25 117.2 258 116.3 C258.75 115.4 260.62 113.22 261.5 111.9 C262.38 110.58 262.72 109.42 263.3 108.4 C263.88 107.38 264.13 106.68 265 105.8 C265.87 104.92 267.25 103.75 268.5 103.1 C269.75 102.45 271.15 102 272.5 101.9 C273.85 101.8 275.48 101.82 276.6 102.5 C277.72 103.18 278.7 104.58 279.2 106 C279.7 107.42 279.7 109.33 279.6 111 C279.5 112.67 279.15 114.58 278.6 116 C278.05 117.42 277.1 118.4 276.3 119.5 C275.5 120.6 274.9 121.4 273.8 122.6 C272.7 123.8 270.95 125.47 269.7 126.7 C268.45 127.93 267.17 129.02 266.3 130 C265.43 130.98 265.23 131.87 264.5 132.6 C263.77 133.33 263.07 134.1 261.9 134.4 C260.73 134.7 258.97 134.7 257.5 134.4 C256.03 134.1 254.17 133.42 253.1 132.6 C252.03 131.78 251.32 130.75 251.1 129.5Z"/>
<path fill="#fec44f" d="M232.6 122.6 C232.8 122.33 233.5 122.27 233.8 122.4 C234.1 122.53 234.43 123.08 234.4 123.4 C234.37 123.72 233.9 124.2 233.6 124.3 C233.3 124.4 232.77 124.28 232.6 124 C232.43 123.72 232.4 122.87 232.6 122.6Z"/>
</g>
<g clip-path="url(#fra)"><g transform="translate(0 0)">
<path fill="#fff" stroke="#777" stroke-width="0.4" d="M41.4 43.4 L43.6 42.6 L46.4 41.7 L48.9 40.3 L46.9 42.6 L44.7 44 L41.9 44.2Z"/>
<path fill="none" stroke="#666" stroke-width="0.5" d="M47.6 58.4 L50.5 65.4 L49.3 69.9 L48.4 71.4"/>
<path fill="none" stroke="#777" stroke-width="0.5" d="M40.45 64.3 L43.6 67.8 L46.9 71.1 L48.8 71.4 L51.7 71 L55.2 76.9 L59.3 83.9 L63.4 88.6 L66.3 92.1 L68 97.9 L69 101 L73.1 103.7 L76.8 109.8 L81.1 115.9 L82.3 122.1 L83.5 128.2 L85.4 132.5 L91.5 131.9 L98.9 128.2 L106.2 125.8 L113.6 123.3 L119.7 120.8 L124.9 116.7 L130.1 114 L134.5 112.3 L138 110.5 L141.5 107.9 L142.4 104.4 L145 102.7 L146.8 100 L148.5 97.4 L150.3 93.9 L148.5 91.3 L145 89.5 L141.5 87.8 L138 86 L136.7 82.5 L136.3 78.1 L135.4 79.9 L133.6 82.5 L131 84.3 L127.5 86 L123.1 86.9 L119.5 87.3 L117.5 86.5 L116.5 83 L115.5 79 L114.3 80 L113.5 83 L112.4 80.5 L110.1 75.5 L107 71.5 L105.4 69.9 L102.8 66.5 L101.9 65.5 L102.5 64.4 L104.5 62.5 L107.2 61.7 L111.2 62.9 L113.5 65.5 L115.3 68.5 L117.9 72 L120 73.4 L123.1 73.8 L127.5 75.9 L131 76.4 L134.5 75.1 L137.2 74.9 L138.5 76.5 L139.8 79.3 L142.4 80.9 L149.4 82 L158.2 82.4 L166.7 82.1 L170 81.6 L176.2 81.2 L178.4 83.1 L181 85.8 L183.6 88.4 L186.3 88.8 L188 91 L190.6 91.9 L193.7 91 L189.8 93.6 L188.9 95.4 L191.5 98 L195 99.8 L198.5 98 L200.3 94.5 L202.9 94.5 L202 98 L202.9 105 L203.3 110 L205.2 113.4 L207.5 121.5 L210.4 128.5 L213.4 134.4 L215.7 140.2 L218 146.1 L221 150.9 L225 148.4 L227.4 146.1 L230.3 142.6 L230.9 136.7 L232 130.9 L232.6 125 L233.2 120.4 L236.7 118 L241.4 114.5 L246 109.9 L251.9 105.2 L256.6 100.5 L260 98.2 L263.8 95.2 L269.5 94.7 L273.8 89.5 L274.2 93.3 L277.6 92.8 L279.5 96.2 L282.8 101.4 L286.6 105.6 L288.8 108 L289.4 109.7 L290 113.8 L288.8 119 L292.3 120.2 L295.8 117.8 L298.2 116.7 L299.6 113.8 L300.5 116.7 L302.9 117.8 L303.4 124.3 L304.6 128.4 L306.4 133 L306.6 137.7 L306.4 142.4 L306.4 143.5 L305.5 148.8 L306.1 151.7 L308.7 152.3 L311 154 L313.4 155.8 L313.9 160.4 L314.5 164.5 L315.7 168 L317.5 171.5 L319.2 173.9 L322.4 175.2 L322.4 178.2 L320.4 177.4 L318 176.2 L314.5 174.5 L311.6 172.1 L308.7 170.4 L305.2 167.4 L304 165.1 L301.7 163.4 L298.2 162.5 L294.7 161.6 L293.2 161 L292.8 161.8 L293.2 162.8 L294.7 165.1 L297.6 168 L300.5 169.8 L302.9 172.7 L305.2 175 L306.9 177.4 L308.1 180.9 L308.7 183.25 L82.9 183.25 L85.4 180.9 L91.5 174.8 L98.9 168.7 L106.2 160.1 L109.9 152.7 L113.6 146.6 L115.4 139.2 L113.6 136.2 L103.8 138 L95.2 140.5 L89 141.7 L86.6 139.2 L81.7 136.8 L84.1 133.1 L80.5 128.2 L74.3 123.3 L69.4 119.6 L65.8 112.3 L60.8 107.4 L59.6 100 L58.7 97.9 L55.2 93.2 L52.8 88.6 L51.7 83.9 L48.2 76.9 L44.7 71 L41.2 66.4 L40.45 66.2Z M322.4 135.4 L321.5 135.4 L319.2 133.6 L315.4 132.4 L315.4 129.8 L312.2 130.1 L311.9 133 L310.4 137.7 L308.7 143.5 L309.3 147 L311.6 151.7 L314.5 154.6 L318 156.4 L322.4 158.1Z M40.45 38.9 L44.7 38.1 L48.1 36.7 L49.7 35.9 L52.5 36.1 L54.8 35.6 L55.9 36.4 L54.5 37.3 L54.8 41.2 L54.5 44.5 L52.5 48.4 L50.8 52.3 L49.2 56.3 L47.5 58.2 L43.6 58.8 L40.45 58.8Z M231.5 144.6 L233.5 146.3 L235.8 149.5 L237.8 153 L238.4 155.8 L237.3 158.6 L234.6 160 L232.3 159.2 L231 156 L230.8 151 L231 147Z M124.2 133.2 L125.5 132.5 L127.8 132.6 L128.6 133.4 L127.2 134.1 L125 134Z M282.6 129 L283.4 129.2 L283.3 133 L282.6 136.5 L282.1 136.4 L282.3 132.5Z M281.6 139.8 L282.2 139.9 L282.1 141.3 L281.5 141.2Z M285.3 150.8 L286 151 L285.8 152.3 L285.1 152Z M286.6 154.3 L287.4 154.5 L287.6 156 L286.8 155.8Z"/>
</g></g>

<path fill="none" stroke="#cfcfcf" stroke-width="0.8" d="M70.5 21.6 V15.2 M70.5 183.85 V190.25 M110.68 21.6 V15.2 M110.68 183.85 V190.25 M150.86 21.6 V15.2 M150.86 183.85 V190.25 M191.04 21.6 V15.2 M191.04 183.85 V190.25 M231.22 21.6 V15.2 M231.22 183.85 V190.25 M271.4 21.6 V15.2 M271.4 183.85 V190.25 M311.58 21.6 V15.2 M311.58 183.85 V190.25 M39.85 143.4 H33.95 M323 143.4 H328.9 M39.85 103.3 H33.95 M323 103.3 H328.9 M39.85 63.2 H33.95 M323 63.2 H328.9 M39.85 23.1 H33.95 M323 23.1 H328.9"/>
<rect x="40.45" y="22.2" width="281.95" height="161.05" fill="none" stroke="#2e2e2e" stroke-width="1.2"/>
<text transform="translate(70.5 199.95) scale(0.84 1)" text-anchor="middle" font-size="11.4" fill="#333">40°E</text>
<text transform="translate(110.68 199.95) scale(0.84 1)" text-anchor="middle" font-size="11.4" fill="#333">50°E</text>
<text transform="translate(150.86 199.95) scale(0.84 1)" text-anchor="middle" font-size="11.4" fill="#333">60°E</text>
<text transform="translate(191.04 199.95) scale(0.84 1)" text-anchor="middle" font-size="11.4" fill="#333">70°E</text>
<text transform="translate(231.22 199.95) scale(0.84 1)" text-anchor="middle" font-size="11.4" fill="#333">80°E</text>
<text transform="translate(271.4 199.95) scale(0.84 1)" text-anchor="middle" font-size="11.4" fill="#333">90°E</text>
<text transform="translate(311.58 199.95) scale(0.84 1)" text-anchor="middle" font-size="11.4" fill="#333">100°E</text>
<text transform="translate(32.75 143.4) rotate(-90) scale(0.84 1)" text-anchor="middle" font-size="11.4" fill="#333">10°N</text>
<text transform="translate(32.75 103.3) rotate(-90) scale(0.84 1)" text-anchor="middle" font-size="11.4" fill="#333">20°N</text>
<text transform="translate(32.75 63.2) rotate(-90) scale(0.84 1)" text-anchor="middle" font-size="11.4" fill="#333">30°N</text>
<text transform="translate(32.75 23.1) rotate(-90) scale(0.84 1)" text-anchor="middle" font-size="11.4" fill="#333">40°N</text>
<text x="0" y="12.6" font-size="18" font-weight="bold" fill="#000">a</text>
<text x="41.2" y="218.8" font-size="11.32" font-weight="bold" fill="#111" xml:space="preserve"><tspan>Pre-monsoon season ACE (10</tspan><tspan dx="1.8" dy="-5" font-size="8.4">2</tspan><tspan dx="3.9" dy="5">knots</tspan><tspan dx="0.5" dy="-5" font-size="8.4">2</tspan><tspan dx="1.6" dy="5">)</tspan></text>
<rect x="40.65" y="228.75" width="13.4" height="6.4" fill="#2a8fc5" stroke="#7a7a7a" stroke-width="0.9"/>
<text transform="translate(56.6 235.9) scale(0.86 1)" font-size="10.5" fill="#222">&lt;3</text>
<rect x="40.65" y="243.85" width="13.4" height="6.4" fill="#6ca8b6" stroke="#7a7a7a" stroke-width="0.9"/>
<text transform="translate(56.6 251) scale(0.86 1)" font-size="10.5" fill="#222">3 ~ 6</text>
<rect x="80.85" y="228.75" width="13.4" height="6.4" fill="#9dc59c" stroke="#7a7a7a" stroke-width="0.9"/>
<text transform="translate(96.8 235.9) scale(0.86 1)" font-size="10.5" fill="#222">6 ~ 9</text>
<rect x="80.85" y="243.85" width="13.4" height="6.4" fill="#d0e38c" stroke="#7a7a7a" stroke-width="0.9"/>
<text transform="translate(96.8 251) scale(0.86 1)" font-size="10.5" fill="#222">9 ~ 12</text>
<rect x="125.95" y="228.75" width="13.4" height="6.4" fill="#fbfb62" stroke="#7a7a7a" stroke-width="0.9"/>
<text transform="translate(141.9 235.9) scale(0.86 1)" font-size="10.5" fill="#222">12 ~ 15</text>
<rect x="125.95" y="243.85" width="13.4" height="6.4" fill="#fec44f" stroke="#7a7a7a" stroke-width="0.9"/>
<text transform="translate(141.9 251) scale(0.86 1)" font-size="10.5" fill="#222">15 ~ 18</text>
<rect x="175.55" y="228.75" width="13.4" height="6.4" fill="#fd8c2e" stroke="#7a7a7a" stroke-width="0.9"/>
<text transform="translate(191.5 235.9) scale(0.86 1)" font-size="10.5" fill="#222">18 ~ 21</text>
<rect x="175.55" y="243.85" width="13.4" height="6.4" fill="#f25c1e" stroke="#7a7a7a" stroke-width="0.9"/>
<text transform="translate(191.5 251) scale(0.86 1)" font-size="10.5" fill="#222">21 ~ 24</text>
<rect x="225.55" y="228.75" width="13.4" height="6.4" fill="#e60e17" stroke="#7a7a7a" stroke-width="0.9"/>
<text transform="translate(241.5 235.9) scale(0.86 1)" font-size="10.5" fill="#222">&gt; 24</text>
<rect x="395.4" y="22.5" width="281.95" height="161.05" fill="#e0e0e0"/>
<g clip-path="url(#ocb)">
<rect x="395.4" y="22.5" width="281.95" height="161.05" fill="#2a8fc5"/>
<path fill="#6ca8b6" d="M463.2 133.5 C463.53 132.4 464.02 130.58 465.2 129.4 C466.38 128.22 468.25 127.77 470.3 126.4 C472.35 125.03 475.45 122.57 477.5 121.2 C479.55 119.83 480.38 118.87 482.6 118.2 C484.82 117.53 488.58 117.55 490.8 117.2 C493.02 116.85 494.88 116.78 495.9 116.1 C496.92 115.42 497.25 114.12 496.9 113.1 C496.55 112.08 494.12 112.18 493.8 110 C493.48 107.82 494.03 103.67 495 100 C495.97 96.33 498.03 89.87 499.6 88 C501.17 86.13 502.15 88.53 504.4 88.8 C506.65 89.07 510.92 89.6 513.1 89.6 C515.28 89.6 515.6 89.38 517.5 88.8 C519.4 88.22 522.32 87.13 524.5 86.1 C526.68 85.07 526.35 83.95 530.6 82.6 C534.85 81.25 542.1 73.77 550 78 C557.9 82.23 574.75 97.55 578 108 C581.25 118.45 571.27 134.75 569.5 140.7 C567.73 146.65 568.42 142.43 567.4 143.7 C566.38 144.97 565.27 147.45 563.4 148.3 C561.53 149.15 559.1 149.05 556.2 148.8 C553.3 148.55 549.4 147.48 546 146.8 C542.6 146.12 539.3 145.22 535.8 144.7 C532.3 144.18 527.9 143.7 525 143.7 C522.1 143.7 520.53 144.87 518.4 144.7 C516.27 144.53 514.25 143.2 512.2 142.7 C510.15 142.2 507.8 141.53 506.1 141.7 C504.4 141.87 503.7 142.85 502 143.7 C500.3 144.55 498.62 146.45 495.9 146.8 C493.18 147.15 489.12 146.15 485.7 145.8 C482.28 145.45 477.97 145.22 475.4 144.7 C472.83 144.18 471.83 143.55 470.3 142.7 C468.77 141.85 467.38 140.72 466.2 139.6 C465.02 138.48 463.7 137.02 463.2 136 C462.7 134.98 462.87 134.6 463.2 133.5Z"/>
<path fill="#9dc59c" d="M503 97 C504.03 95.13 506.38 93.88 508.8 92.8 C511.22 91.72 514.88 91.33 517.5 90.5 C520.12 89.67 522.45 88.55 524.5 87.8 C526.55 87.05 528.38 86.55 529.8 86 C531.22 85.45 529.97 85.5 533 84.5 C536.03 83.5 540.5 75.75 548 80 C555.5 84.25 575.1 100.75 578 110 C580.9 119.25 567.5 130.22 565.4 135.5 C563.3 140.78 565.92 139.82 565.4 141.7 C564.88 143.58 563.67 145.78 562.3 146.8 C560.93 147.82 559.07 147.97 557.2 147.8 C555.33 147.63 553.13 146.65 551.1 145.8 C549.07 144.95 547.05 143.73 545 142.7 C542.95 141.67 541.18 140.8 538.8 139.6 C536.42 138.4 533.08 136.68 530.7 135.5 C528.32 134.32 526.22 132.5 524.5 132.5 C522.78 132.5 521.93 134.73 520.4 135.5 C518.87 136.27 517.35 137.1 515.3 137.1 C513.25 137.1 509.8 136.1 508.1 135.5 C506.4 134.9 504.92 134.52 505.1 133.5 C505.28 132.48 507.33 130.77 509.2 129.4 C511.07 128.03 514.43 126.48 516.3 125.3 C518.17 124.12 519.72 123.65 520.4 122.3 C521.08 120.95 521.42 118.4 520.4 117.2 C519.38 116 516.68 115.78 514.3 115.1 C511.92 114.42 507.8 113.95 506.1 113.1 C504.4 112.25 504.68 111.52 504.1 110 C503.52 108.48 502.78 106.17 502.6 104 C502.42 101.83 501.97 98.87 503 97Z"/>
<path fill="#9dc59c" d="M473.4 134.5 C473.4 133.65 474.03 132.35 475.4 131.5 C476.77 130.65 479.88 129.75 481.6 129.4 C483.32 129.05 484.68 128.88 485.7 129.4 C486.72 129.92 487.2 130.97 487.7 132.5 C488.2 134.03 488.7 137.07 488.7 138.6 C488.7 140.13 488.38 141.35 487.7 141.7 C487.02 142.05 485.8 141.38 484.6 140.7 C483.4 140.02 482.03 138.28 480.5 137.6 C478.97 136.92 476.58 137.12 475.4 136.6 C474.22 136.08 473.4 135.35 473.4 134.5Z"/>
<path fill="#9dc59c" d="M490.8 140.7 C491.4 140.28 493.8 140.37 494.9 140.7 C496 141.03 497.07 141.93 497.4 142.7 C497.73 143.47 497.5 144.87 496.9 145.3 C496.3 145.73 494.73 145.65 493.8 145.3 C492.87 144.95 491.8 143.97 491.3 143.2 C490.8 142.43 490.2 141.12 490.8 140.7Z"/>
<path fill="#2a8fc5" d="M494.8 133.2 C495 132.92 495.53 132.5 495.9 132.5 C496.27 132.5 496.85 132.88 497 133.2 C497.15 133.52 497.05 134.13 496.8 134.4 C496.55 134.67 495.85 134.83 495.5 134.8 C495.15 134.77 494.82 134.47 494.7 134.2 C494.58 133.93 494.6 133.48 494.8 133.2Z"/>
<path fill="#d0e38c" d="M507.9 103.6 C508.43 102.12 509.8 101.12 511.4 100.1 C513 99.08 515.6 98.67 517.5 97.5 C519.4 96.33 521.05 94.55 522.8 93.1 C524.55 91.65 526.4 89.82 528 88.8 C529.6 87.78 531.23 87.47 532.4 87 C533.57 86.53 532.9 86.33 535 86 C537.1 85.67 540.5 81.83 545 85 C549.5 88.17 559.28 97.77 562 105 C564.72 112.23 561.25 123.13 561.3 128.4 C561.35 133.67 562.3 134.22 562.3 136.6 C562.3 138.98 562.15 141.35 561.3 142.7 C560.45 144.05 558.9 144.7 557.2 144.7 C555.5 144.7 552.8 143.55 551.1 142.7 C549.4 141.85 548.2 140.97 547 139.6 C545.8 138.23 545.27 135.68 543.9 134.5 C542.53 133.32 541 133.35 538.8 132.5 C536.6 131.65 532.92 130.93 530.7 129.4 C528.48 127.87 527.22 125.4 525.5 123.3 C523.78 121.2 521.98 118.32 520.4 116.8 C518.82 115.28 517.57 115 516 114.2 C514.43 113.4 512.3 112.87 511 112 C509.7 111.13 508.72 110.4 508.2 109 C507.68 107.6 507.37 105.08 507.9 103.6Z"/>
<path fill="#fbfb62" d="M514.9 103.6 C515.18 102.72 516.18 102.02 517.5 101 C518.82 99.98 521.05 99.1 522.8 97.5 C524.55 95.9 526.25 92.85 528 91.4 C529.75 89.95 531.68 89.38 533.3 88.8 C534.92 88.22 536.38 87.62 537.7 87.9 C539.02 88.18 539.9 89.33 541.2 90.5 C542.5 91.67 544.2 93.3 545.5 94.9 C546.8 96.5 547.83 98.07 549 100.1 C550.17 102.13 551.47 104.95 552.5 107.1 C553.53 109.25 554.42 110.82 555.2 113 C555.98 115.18 556.52 117.63 557.2 120.2 C557.88 122.77 558.78 125.85 559.3 128.4 C559.82 130.95 560.3 133.45 560.3 135.5 C560.3 137.55 559.98 139.67 559.3 140.7 C558.62 141.73 557.4 141.7 556.2 141.7 C555 141.7 553.3 141.55 552.1 140.7 C550.9 139.85 549.85 138.13 549 136.6 C548.15 135.07 548.02 132.78 547 131.5 C545.98 130.22 544.6 129.5 542.9 128.9 C541.2 128.3 538.83 128.67 536.8 127.9 C534.77 127.13 532.32 125.87 530.7 124.3 C529.08 122.73 528.28 120.48 527.1 118.5 C525.92 116.52 524.77 114.15 523.6 112.4 C522.43 110.65 521.4 109.02 520.1 108 C518.8 106.98 516.67 107.03 515.8 106.3 C514.93 105.57 514.62 104.48 514.9 103.6Z"/>
<path fill="#fec44f" d="M522.8 102.8 C523.17 100.9 524.23 98.5 525.4 96.6 C526.57 94.7 528.2 92.57 529.8 91.4 C531.4 90.23 533.4 89.75 535 89.6 C536.6 89.45 538.08 89.47 539.4 90.5 C540.72 91.53 541.88 93.75 542.9 95.8 C543.92 97.85 544.48 100.47 545.5 102.8 C546.52 105.13 547.87 107.47 549 109.8 C550.13 112.13 551.38 114.47 552.3 116.8 C553.22 119.13 553.68 121.18 554.5 123.8 C555.32 126.42 556.67 130.37 557.2 132.5 C557.73 134.63 557.87 135.42 557.7 136.6 C557.53 137.78 556.97 139.27 556.2 139.6 C555.43 139.93 554.12 139.62 553.1 138.6 C552.08 137.58 550.95 135.37 550.1 133.5 C549.25 131.63 549.2 128.77 548 127.4 C546.8 126.03 544.6 125.95 542.9 125.3 C541.2 124.65 539.55 124.3 537.8 123.5 C536.05 122.7 534.03 121.58 532.4 120.5 C530.77 119.42 529.23 118.33 528 117 C526.77 115.67 525.8 114 525 112.5 C524.2 111 523.57 109.62 523.2 108 C522.83 106.38 522.43 104.7 522.8 102.8Z"/>
<path fill="#fd8c2e" d="M526.3 100.1 C527.03 98.35 528.63 96.2 529.8 94.9 C530.97 93.6 532.13 92.88 533.3 92.3 C534.47 91.72 535.63 91.12 536.8 91.4 C537.97 91.68 539.43 92.55 540.3 94 C541.17 95.45 541.13 98.05 542 100.1 C542.87 102.15 544.47 104.1 545.5 106.3 C546.53 108.5 547.62 111.27 548.2 113.3 C548.78 115.33 549.3 117.18 549 118.5 C548.7 119.82 547.7 120.62 546.4 121.2 C545.1 121.78 542.95 122 541.2 122 C539.45 122 537.52 122.07 535.9 121.2 C534.28 120.33 532.82 118.57 531.5 116.8 C530.18 115.03 529.02 112.5 528 110.6 C526.98 108.7 525.68 107.15 525.4 105.4 C525.12 103.65 525.57 101.85 526.3 100.1Z"/>
<path fill="#fd8c2e" d="M555.2 132.1 C555.63 132.07 556.33 132.25 556.6 132.6 C556.87 132.95 557 133.75 556.8 134.2 C556.6 134.65 555.87 135.27 555.4 135.3 C554.93 135.33 554.23 134.82 554 134.4 C553.77 133.98 553.8 133.18 554 132.8 C554.2 132.42 554.77 132.13 555.2 132.1Z"/>
<path fill="#f25c1e" d="M531.5 105.4 C532.08 104.45 533.83 103.35 535 103.2 C536.17 103.05 537.18 103.4 538.5 104.5 C539.82 105.6 541.73 108.05 542.9 109.8 C544.07 111.55 545.35 113.55 545.5 115 C545.65 116.45 544.97 117.77 543.8 118.5 C542.63 119.23 540.1 119.53 538.5 119.4 C536.9 119.27 535.22 118.58 534.2 117.7 C533.18 116.82 532.85 115.57 532.4 114.1 C531.95 112.63 531.65 110.35 531.5 108.9 C531.35 107.45 530.92 106.35 531.5 105.4Z"/>
<path fill="#f25c1e" d="M535.5 93.4 C535.9 93.35 536.47 93.98 536.7 94.5 C536.93 95.02 537.07 95.88 536.9 96.5 C536.73 97.12 536.12 98.12 535.7 98.2 C535.28 98.28 534.63 97.57 534.4 97 C534.17 96.43 534.12 95.4 534.3 94.8 C534.48 94.2 535.1 93.45 535.5 93.4Z"/>
<path fill="#e60e17" d="M536.8 110.2 C537.47 110.2 538.35 110.55 538.8 111 C539.25 111.45 539.5 112.27 539.5 112.9 C539.5 113.53 539.25 114.35 538.8 114.8 C538.35 115.25 537.47 115.6 536.8 115.6 C536.13 115.6 535.25 115.25 534.8 114.8 C534.35 114.35 534.1 113.53 534.1 112.9 C534.1 112.27 534.35 111.45 534.8 111 C535.25 110.55 536.13 110.2 536.8 110.2Z"/>
<path fill="#6ca8b6" d="M600 96 C609.5 90.33 632 85.33 640 86 C648 86.67 647.32 94.4 648 100 C648.68 105.6 644.32 115.9 644.1 119.6 C643.88 123.3 646.4 121.05 646.7 122.2 C647 123.35 646.62 125.2 645.9 126.5 C645.18 127.8 643.72 129.13 642.4 130 C641.08 130.87 639.02 130.83 638 131.7 C636.98 132.57 636.43 133.75 636.3 135.2 C636.17 136.65 636.92 138.8 637.2 140.4 C637.48 142 637.42 143.63 638 144.8 C638.58 145.97 639.82 147.12 640.7 147.4 C641.58 147.68 642.43 147.23 643.3 146.5 C644.17 145.77 645.33 143 645.9 143 C646.47 143 646.7 145.18 646.7 146.5 C646.7 147.82 646.47 149.3 645.9 150.9 C645.33 152.5 644.03 154.22 643.3 156.1 C642.57 157.98 642.08 160.03 641.5 162.2 C640.92 164.37 640.67 167.22 639.8 169.1 C638.93 170.98 637.9 172.68 636.3 173.5 C634.7 174.32 631.92 174.5 630.2 174 C628.48 173.5 627.08 171.62 626 170.5 C624.92 169.38 624.82 168.8 623.7 167.3 C622.58 165.8 620.88 163.32 619.3 161.5 C617.72 159.68 616.27 157.87 614.2 156.4 C612.13 154.93 609.33 153.8 606.9 152.7 C604.47 151.6 602.03 150.77 599.6 149.8 C597.17 148.83 594.48 148.12 592.3 146.9 C590.12 145.68 587.88 143.98 586.5 142.5 C585.12 141.02 584.58 141.75 584 138 C583.42 134.25 580.33 127 583 120 C585.67 113 590.5 101.67 600 96Z"/>
<path fill="#9dc59c" d="M600 98 C609.33 94.33 631.67 87.67 640 88 C648.33 88.33 649.33 96 650 100 C650.67 104 645.42 109.17 644 112 C642.58 114.83 642.35 114.72 641.5 117 C640.65 119.28 640.2 123.1 638.9 125.7 C637.6 128.3 634.72 129.42 633.7 132.6 C632.68 135.78 632.95 141.03 632.8 144.8 C632.65 148.57 632.52 152.25 632.8 155.2 C633.08 158.15 634.47 160.67 634.5 162.5 C634.53 164.33 634 165.48 633 166.2 C632 166.92 629.93 167.58 628.5 166.8 C627.07 166.02 625.82 163.35 624.4 161.5 C622.98 159.65 621.7 157.4 620 155.7 C618.3 154 616.38 152.52 614.2 151.3 C612.02 150.08 609.33 149.38 606.9 148.4 C604.47 147.42 602.03 146.5 599.6 145.4 C597.17 144.3 594.48 143.37 592.3 141.8 C590.12 140.23 587.88 138.3 586.5 136 C585.12 133.7 584.42 132.33 584 128 C583.58 123.67 581.33 115 584 110 C586.67 105 590.67 101.67 600 98Z"/>
<path fill="#d0e38c" d="M612 99 C618.67 97 633.67 87.83 640 88 C646.33 88.17 649.83 96 650 100 C650.17 104 643.13 108.17 641 112 C638.87 115.83 638.27 120 637.2 123 C636.13 126 635.62 127.82 634.6 130 C633.58 132.18 631.8 133.35 631.1 136.1 C630.4 138.85 630.75 143.85 630.4 146.5 C630.05 149.15 629.75 150.83 629 152 C628.25 153.17 627.4 153.62 625.9 153.5 C624.4 153.38 621.95 152.15 620 151.3 C618.05 150.45 616.38 149.38 614.2 148.4 C612.02 147.42 609.33 146.5 606.9 145.4 C604.47 144.3 602.03 143.02 599.6 141.8 C597.17 140.58 594.48 139.68 592.3 138.1 C590.12 136.52 587.88 133.98 586.5 132.3 C585.12 130.62 584.42 130.38 584 128 C583.58 125.62 581.33 122.67 584 118 C586.67 113.33 595.33 103.17 600 100 C604.67 96.83 605.33 101 612 99Z"/>
<path fill="#9dc59c" d="M599.5 113 C599.92 112.17 601 111 602 110.5 C603 110 604.75 109.67 605.5 110 C606.25 110.33 606.58 111.58 606.5 112.5 C606.42 113.42 605.83 114.78 605 115.5 C604.17 116.22 602.42 116.8 601.5 116.8 C600.58 116.8 599.83 116.13 599.5 115.5 C599.17 114.87 599.08 113.83 599.5 113Z"/>
<path fill="#fbfb62" d="M609.1 104.1 C609.53 102.62 610.18 102.18 611 101 C611.82 99.82 612.67 98 614 97 C615.33 96 617.17 95.5 619 95 C620.83 94.5 623.17 94.33 625 94 C626.83 93.67 627.5 93.67 630 93 C632.5 92.33 637.5 88.83 640 90 C642.5 91.17 644.83 96.67 645 100 C645.17 103.33 642.45 106.88 641 110 C639.55 113.12 637.67 115.8 636.3 118.7 C634.93 121.6 633.88 124.65 632.8 127.4 C631.72 130.15 630.18 132.6 629.8 135.2 C629.42 137.8 630.55 140.78 630.5 143 C630.45 145.22 630.03 147.37 629.5 148.5 C628.97 149.63 628.63 149.7 627.3 149.8 C625.97 149.9 623.68 149.7 621.5 149.1 C619.32 148.5 616.63 147.42 614.2 146.2 C611.77 144.98 609.33 143.15 606.9 141.8 C604.47 140.45 601.78 139.43 599.6 138.1 C597.42 136.77 595.63 135.62 593.8 133.8 C591.97 131.98 589.82 128.83 588.6 127.2 C587.38 125.57 586.37 124.82 586.5 124 C586.63 123.18 588.43 122.87 589.4 122.3 C590.37 121.73 590.6 120.88 592.3 120.6 C594 120.32 597.45 120.63 599.6 120.6 C601.75 120.57 603.98 120.97 605.2 120.4 C606.42 119.83 606.37 118.95 606.9 117.2 C607.43 115.45 608.03 112.08 608.4 109.9 C608.77 107.72 608.67 105.58 609.1 104.1Z"/>
<path fill="#fec44f" d="M611.8 103.93 L610.94 107.86 L609.59 119.72 L607.58 124.22 L606.38 130.22 L606.82 136.4 L607.47 138.22 L610.87 143.32 L616.4 147.34 L618.12 147.97 L625.45 148.56 L629.72 145.69 L631.2 143.39 L632 139.89 L632.1 136 L629.69 127.17 L630.15 124.26 L634.18 115.57 L635.15 109.24 L631.58 102.62 L626.19 99.72 L624.4 99.3 L617.76 99.61 L614.16 101.11 L612.63 102.23Z"/>
<path fill="#fd8c2e" d="M613.16 104.24 L612.32 108.05 L610.96 120.1 L608.95 124.49 L607.75 130.49 L608.21 136.26 L612.04 142.54 L617.17 146.17 L625.08 147.21 L628.87 144.57 L629.83 143.08 L630.63 139.58 L630.7 136 L628.26 127.25 L628.8 123.82 L632.89 115.02 L633.76 109.47 L630.61 103.63 L625.56 100.97 L618.3 100.9 L614.7 102.4Z"/>
<path fill="#f25c1e" d="M614.43 104.52 L613.61 108.22 L612.23 120.45 L610.23 124.75 L609.03 130.75 L609.51 136.13 L613.12 141.82 L617.88 145.09 L624.74 145.95 L628.39 143.21 L629.37 139.29 L629.35 135.63 L626.93 127.32 L627.55 123.41 L631.7 114.51 L632.48 109.69 L629.7 104.56 L624.98 102.14 L618.8 102.1 L615.2 103.6Z"/>
<path fill="#e60e17" d="M615.7 104.8 C616.43 103.95 617.85 103.55 619.3 103.3 C620.75 103.05 622.82 102.93 624.4 103.3 C625.98 103.67 627.67 104.4 628.8 105.5 C629.93 106.6 630.92 108.48 631.2 109.9 C631.48 111.32 630.95 112.53 630.5 114 C630.05 115.47 629.2 117.2 628.5 118.7 C627.8 120.2 626.78 121.55 626.3 123 C625.82 124.45 625.55 126.07 625.6 127.4 C625.65 128.73 626.18 129.57 626.6 131 C627.02 132.43 627.85 134.67 628.1 136 C628.35 137.33 628.23 137.92 628.1 139 C627.97 140.08 627.92 141.55 627.3 142.5 C626.68 143.45 625.85 144.45 624.4 144.7 C622.95 144.95 620.3 144.6 618.6 144 C616.9 143.4 615.5 142.43 614.2 141.1 C612.9 139.77 611.45 137.68 610.8 136 C610.15 134.32 610.18 132.83 610.3 131 C610.42 129.17 610.97 126.7 611.5 125 C612.03 123.3 613.05 122.72 613.5 120.8 C613.95 118.88 613.97 115.57 614.2 113.5 C614.43 111.43 614.65 109.85 614.9 108.4 C615.15 106.95 614.97 105.65 615.7 104.8Z"/>
</g>
<g clip-path="url(#frb)"><g transform="translate(354.95 0.3)">
<path fill="#fff" stroke="#777" stroke-width="0.4" d="M41.4 43.4 L43.6 42.6 L46.4 41.7 L48.9 40.3 L46.9 42.6 L44.7 44 L41.9 44.2Z"/>
<path fill="none" stroke="#666" stroke-width="0.5" d="M47.6 58.4 L50.5 65.4 L49.3 69.9 L48.4 71.4"/>
<path fill="none" stroke="#777" stroke-width="0.5" d="M40.45 64.3 L43.6 67.8 L46.9 71.1 L48.8 71.4 L51.7 71 L55.2 76.9 L59.3 83.9 L63.4 88.6 L66.3 92.1 L68 97.9 L69 101 L73.1 103.7 L76.8 109.8 L81.1 115.9 L82.3 122.1 L83.5 128.2 L85.4 132.5 L91.5 131.9 L98.9 128.2 L106.2 125.8 L113.6 123.3 L119.7 120.8 L124.9 116.7 L130.1 114 L134.5 112.3 L138 110.5 L141.5 107.9 L142.4 104.4 L145 102.7 L146.8 100 L148.5 97.4 L150.3 93.9 L148.5 91.3 L145 89.5 L141.5 87.8 L138 86 L136.7 82.5 L136.3 78.1 L135.4 79.9 L133.6 82.5 L131 84.3 L127.5 86 L123.1 86.9 L119.5 87.3 L117.5 86.5 L116.5 83 L115.5 79 L114.3 80 L113.5 83 L112.4 80.5 L110.1 75.5 L107 71.5 L105.4 69.9 L102.8 66.5 L101.9 65.5 L102.5 64.4 L104.5 62.5 L107.2 61.7 L111.2 62.9 L113.5 65.5 L115.3 68.5 L117.9 72 L120 73.4 L123.1 73.8 L127.5 75.9 L131 76.4 L134.5 75.1 L137.2 74.9 L138.5 76.5 L139.8 79.3 L142.4 80.9 L149.4 82 L158.2 82.4 L166.7 82.1 L170 81.6 L176.2 81.2 L178.4 83.1 L181 85.8 L183.6 88.4 L186.3 88.8 L188 91 L190.6 91.9 L193.7 91 L189.8 93.6 L188.9 95.4 L191.5 98 L195 99.8 L198.5 98 L200.3 94.5 L202.9 94.5 L202 98 L202.9 105 L203.3 110 L205.2 113.4 L207.5 121.5 L210.4 128.5 L213.4 134.4 L215.7 140.2 L218 146.1 L221 150.9 L225 148.4 L227.4 146.1 L230.3 142.6 L230.9 136.7 L232 130.9 L232.6 125 L233.2 120.4 L236.7 118 L241.4 114.5 L246 109.9 L251.9 105.2 L256.6 100.5 L260 98.2 L263.8 95.2 L269.5 94.7 L273.8 89.5 L274.2 93.3 L277.6 92.8 L279.5 96.2 L282.8 101.4 L286.6 105.6 L288.8 108 L289.4 109.7 L290 113.8 L288.8 119 L292.3 120.2 L295.8 117.8 L298.2 116.7 L299.6 113.8 L300.5 116.7 L302.9 117.8 L303.4 124.3 L304.6 128.4 L306.4 133 L306.6 137.7 L306.4 142.4 L306.4 143.5 L305.5 148.8 L306.1 151.7 L308.7 152.3 L311 154 L313.4 155.8 L313.9 160.4 L314.5 164.5 L315.7 168 L317.5 171.5 L319.2 173.9 L322.4 175.2 L322.4 178.2 L320.4 177.4 L318 176.2 L314.5 174.5 L311.6 172.1 L308.7 170.4 L305.2 167.4 L304 165.1 L301.7 163.4 L298.2 162.5 L294.7 161.6 L293.2 161 L292.8 161.8 L293.2 162.8 L294.7 165.1 L297.6 168 L300.5 169.8 L302.9 172.7 L305.2 175 L306.9 177.4 L308.1 180.9 L308.7 183.25 L82.9 183.25 L85.4 180.9 L91.5 174.8 L98.9 168.7 L106.2 160.1 L109.9 152.7 L113.6 146.6 L115.4 139.2 L113.6 136.2 L103.8 138 L95.2 140.5 L89 141.7 L86.6 139.2 L81.7 136.8 L84.1 133.1 L80.5 128.2 L74.3 123.3 L69.4 119.6 L65.8 112.3 L60.8 107.4 L59.6 100 L58.7 97.9 L55.2 93.2 L52.8 88.6 L51.7 83.9 L48.2 76.9 L44.7 71 L41.2 66.4 L40.45 66.2Z M322.4 135.4 L321.5 135.4 L319.2 133.6 L315.4 132.4 L315.4 129.8 L312.2 130.1 L311.9 133 L310.4 137.7 L308.7 143.5 L309.3 147 L311.6 151.7 L314.5 154.6 L318 156.4 L322.4 158.1Z M40.45 38.9 L44.7 38.1 L48.1 36.7 L49.7 35.9 L52.5 36.1 L54.8 35.6 L55.9 36.4 L54.5 37.3 L54.8 41.2 L54.5 44.5 L52.5 48.4 L50.8 52.3 L49.2 56.3 L47.5 58.2 L43.6 58.8 L40.45 58.8Z M231.5 144.6 L233.5 146.3 L235.8 149.5 L237.8 153 L238.4 155.8 L237.3 158.6 L234.6 160 L232.3 159.2 L231 156 L230.8 151 L231 147Z M124.2 133.2 L125.5 132.5 L127.8 132.6 L128.6 133.4 L127.2 134.1 L125 134Z M282.6 129 L283.4 129.2 L283.3 133 L282.6 136.5 L282.1 136.4 L282.3 132.5Z M281.6 139.8 L282.2 139.9 L282.1 141.3 L281.5 141.2Z M285.3 150.8 L286 151 L285.8 152.3 L285.1 152Z M286.6 154.3 L287.4 154.5 L287.6 156 L286.8 155.8Z"/>
</g></g>

<path fill="none" stroke="#cfcfcf" stroke-width="0.8" d="M425.45 21.9 V15.5 M425.45 184.15 V190.55 M465.63 21.9 V15.5 M465.63 184.15 V190.55 M505.81 21.9 V15.5 M505.81 184.15 V190.55 M545.99 21.9 V15.5 M545.99 184.15 V190.55 M586.17 21.9 V15.5 M586.17 184.15 V190.55 M626.35 21.9 V15.5 M626.35 184.15 V190.55 M666.53 21.9 V15.5 M666.53 184.15 V190.55 M394.8 143.7 H388.9 M677.95 143.7 H683.85 M394.8 103.6 H388.9 M677.95 103.6 H683.85 M394.8 63.5 H388.9 M677.95 63.5 H683.85 M394.8 23.4 H388.9 M677.95 23.4 H683.85"/>
<rect x="395.4" y="22.5" width="281.95" height="161.05" fill="none" stroke="#2e2e2e" stroke-width="1.2"/>
<text transform="translate(425.45 200.25) scale(0.84 1)" text-anchor="middle" font-size="11.4" fill="#333">40°E</text>
<text transform="translate(465.63 200.25) scale(0.84 1)" text-anchor="middle" font-size="11.4" fill="#333">50°E</text>
<text transform="translate(505.81 200.25) scale(0.84 1)" text-anchor="middle" font-size="11.4" fill="#333">60°E</text>
<text transform="translate(545.99 200.25) scale(0.84 1)" text-anchor="middle" font-size="11.4" fill="#333">70°E</text>
<text transform="translate(586.17 200.25) scale(0.84 1)" text-anchor="middle" font-size="11.4" fill="#333">80°E</text>
<text transform="translate(626.35 200.25) scale(0.84 1)" text-anchor="middle" font-size="11.4" fill="#333">90°E</text>
<text transform="translate(666.53 200.25) scale(0.84 1)" text-anchor="middle" font-size="11.4" fill="#333">100°E</text>
<text transform="translate(387.7 143.7) rotate(-90) scale(0.84 1)" text-anchor="middle" font-size="11.4" fill="#333">10°N</text>
<text transform="translate(387.7 103.6) rotate(-90) scale(0.84 1)" text-anchor="middle" font-size="11.4" fill="#333">20°N</text>
<text transform="translate(387.7 63.5) rotate(-90) scale(0.84 1)" text-anchor="middle" font-size="11.4" fill="#333">30°N</text>
<text transform="translate(387.7 23.4) rotate(-90) scale(0.84 1)" text-anchor="middle" font-size="11.4" fill="#333">40°N</text>
<text x="354.4" y="12.6" font-size="18" font-weight="bold" fill="#000">b</text>
<text x="395.6" y="219.4" font-size="11.32" font-weight="bold" fill="#111" xml:space="preserve"><tspan>Track Density in the pre-monsoon season (10</tspan><tspan dx="0.3" dy="-5" font-size="8.4">-2</tspan><tspan dx="3.6" dy="5">)</tspan></text>
<rect x="395.55" y="228.85" width="13.4" height="6.4" fill="#2a8fc5" stroke="#7a7a7a" stroke-width="0.9"/>
<text transform="translate(411.5 236) scale(0.86 1)" font-size="10.5" fill="#222">&lt;10</text>
<rect x="395.55" y="244.05" width="13.4" height="6.4" fill="#6ca8b6" stroke="#7a7a7a" stroke-width="0.9"/>
<text transform="translate(411.5 251.2) scale(0.86 1)" font-size="10.5" fill="#222">10 ~ 20</text>
<rect x="445.85" y="228.85" width="13.4" height="6.4" fill="#9dc59c" stroke="#7a7a7a" stroke-width="0.9"/>
<text transform="translate(461.8 236) scale(0.86 1)" font-size="10.5" fill="#222">20 ~ 30</text>
<rect x="445.85" y="244.05" width="13.4" height="6.4" fill="#d0e38c" stroke="#7a7a7a" stroke-width="0.9"/>
<text transform="translate(461.8 251.2) scale(0.86 1)" font-size="10.5" fill="#222">30 ~ 40</text>
<rect x="496.05" y="228.85" width="13.4" height="6.4" fill="#fbfb62" stroke="#7a7a7a" stroke-width="0.9"/>
<text transform="translate(512 236) scale(0.86 1)" font-size="10.5" fill="#222">40 ~ 50</text>
<rect x="496.05" y="244.05" width="13.4" height="6.4" fill="#fec44f" stroke="#7a7a7a" stroke-width="0.9"/>
<text transform="translate(512 251.2) scale(0.86 1)" font-size="10.5" fill="#222">50 ~ 60</text>
<rect x="546.35" y="228.85" width="13.4" height="6.4" fill="#fd8c2e" stroke="#7a7a7a" stroke-width="0.9"/>
<text transform="translate(562.3 236) scale(0.86 1)" font-size="10.5" fill="#222">60 ~ 70</text>
<rect x="546.35" y="244.05" width="13.4" height="6.4" fill="#f25c1e" stroke="#7a7a7a" stroke-width="0.9"/>
<text transform="translate(562.3 251.2) scale(0.86 1)" font-size="10.5" fill="#222">70 ~ 80</text>
<rect x="596.45" y="228.85" width="13.4" height="6.4" fill="#e60e17" stroke="#7a7a7a" stroke-width="0.9"/>
<text transform="translate(612.4 236) scale(0.86 1)" font-size="10.5" fill="#222">&gt; 80</text>
<rect x="40.45" y="296.4" width="281.95" height="161.05" fill="#e0e0e0"/>
<g clip-path="url(#occ)">
<rect x="40.45" y="296.4" width="281.95" height="161.05" fill="#ffffff"/>
<path fill="#fcc9b7" d="M144.38 373.47 C144.74 370.55 145.47 366.72 146.57 364.71 C147.66 362.7 149.31 361.79 150.95 361.42 C152.59 361.06 154.78 361.61 156.42 362.52 C158.07 363.43 159.34 366.08 160.8 366.9 C162.26 367.72 163.72 367.99 165.18 367.45 C166.64 366.9 167.92 364.8 169.56 363.61 C171.2 362.43 173.21 360.78 175.04 360.33 C176.86 359.87 178.14 361.61 180.51 360.88 C182.88 360.15 185.07 355.86 189.27 355.95 C193.47 356.04 202.23 357.77 205.69 361.42 C209.16 365.07 209.8 372.37 210.07 377.85 C210.35 383.32 207.61 390.07 207.34 394.27 C207.06 398.47 208.7 400.8 208.43 403.03 C208.16 405.26 207.06 406.5 205.69 407.63 C204.32 408.76 202.04 410 200.22 409.82 C198.39 409.64 196.57 407.39 194.74 406.53 C192.92 405.68 190.73 404.31 189.27 404.67 C187.81 405.04 187.26 407.32 185.99 408.72 C184.71 410.13 183.43 412.19 181.61 413.1 C179.78 414.01 177.04 414.23 175.04 414.2 C173.03 414.16 170.84 413.83 169.56 412.88 C168.28 411.93 167.83 410.33 167.37 408.5 C166.92 406.68 167.01 404.12 166.82 401.93 C166.64 399.74 166.92 397.19 166.28 395.36 C165.64 393.54 164.45 391.72 162.99 390.99 C161.53 390.26 159.53 390.77 157.52 390.99 C155.51 391.2 152.77 392.66 150.95 392.3 C149.12 391.93 147.66 390.47 146.57 388.8 C145.47 387.12 144.74 384.78 144.38 382.23 C144.01 379.67 144.01 376.39 144.38 373.47Z"/>
<path fill="#fc8f75" d="M147.12 376.75 C147.3 373.98 148.3 370.64 149.31 369.09 C150.31 367.54 151.59 367.17 153.14 367.45 C154.69 367.72 156.79 369.82 158.61 370.73 C160.44 371.64 162.26 372.65 164.09 372.92 C165.91 373.19 168.1 373.1 169.56 372.37 C171.02 371.64 171.57 369.91 172.85 368.54 C174.12 367.17 175.4 365.16 177.23 364.16 C179.05 363.16 181.79 362.61 183.8 362.52 C185.8 362.43 187.45 362.88 189.27 363.61 C191.09 364.34 192.74 365.8 194.74 366.9 C196.75 367.99 198.76 369.27 201.31 370.18 C203.87 371.09 209.34 368.54 210.07 372.37 C210.8 376.2 206.61 388.98 205.69 393.18 C204.78 397.37 204.78 396.09 204.6 397.55 C204.42 399.01 204.96 400.47 204.6 401.93 C204.23 403.39 203.69 405.36 202.41 406.31 C201.13 407.26 198.76 408.32 196.93 407.63 C195.11 406.93 193.28 403.25 191.46 402.15 C189.64 401.06 187.26 400.55 185.99 401.06 C184.71 401.57 185.07 403.61 183.8 405.22 C182.52 406.82 180.15 409.56 178.32 410.69 C176.5 411.82 174.22 412.37 172.85 412.01 C171.48 411.64 170.66 410.55 170.11 408.5 C169.56 406.46 169.84 402.66 169.56 399.74 C169.29 396.82 169.38 393.14 168.47 390.99 C167.55 388.83 165.73 387.34 164.09 386.82 C162.45 386.31 160.62 387.55 158.61 387.92 C156.61 388.28 153.78 389.38 152.04 389.01 C150.31 388.65 149.03 387.77 148.21 385.73 C147.39 383.69 146.93 379.53 147.12 376.75Z"/>
<path fill="#f24d35" d="M170.66 375.66 C171.02 373.28 171.75 369.82 172.85 367.99 C173.94 366.17 175.4 365.47 177.23 364.71 C179.05 363.94 181.79 363.21 183.8 363.39 C185.8 363.58 187.45 364.67 189.27 365.8 C191.09 366.93 192.74 369.09 194.74 370.18 C196.75 371.28 198.76 371.82 201.31 372.37 C203.87 372.92 209.34 370.36 210.07 373.47 C210.8 376.57 206.61 386.97 205.69 390.99 C204.78 395 205.33 396.06 204.6 397.55 C203.87 399.05 202.59 399.93 201.31 399.96 C200.04 400 198.58 398.87 196.93 397.77 C195.29 396.68 193.28 393.94 191.46 393.39 C189.64 392.85 187.81 393.94 185.99 394.49 C184.16 395.04 182.34 396.5 180.51 396.68 C178.69 396.86 176.31 396.9 175.04 395.58 C173.76 394.27 173.58 391.02 172.85 388.8 C172.12 386.57 171.02 384.42 170.66 382.23 C170.29 380.04 170.29 378.03 170.66 375.66Z"/>
<path fill="#e10000" d="M172.85 376.75 C172.85 374.2 173.03 371.82 173.94 370.18 C174.85 368.54 176.68 367.48 178.32 366.9 C179.96 366.31 181.97 366.17 183.8 366.68 C185.62 367.19 187.08 368.87 189.27 369.96 C191.46 371.06 194.93 372.63 196.93 373.25 C198.94 373.87 199.12 373.47 201.31 373.69 C203.5 373.91 209.34 372.04 210.07 374.56 C210.8 377.08 206.88 385.97 205.69 388.8 C204.51 391.62 203.69 390.77 202.96 391.53 C202.23 392.3 202.32 393.27 201.31 393.39 C200.31 393.52 198.58 393.21 196.93 392.3 C195.29 391.39 193.1 388.14 191.46 387.92 C189.82 387.7 188.72 390.11 187.08 390.99 C185.44 391.86 183.43 393.18 181.61 393.18 C179.78 393.18 177.41 392.26 176.13 390.99 C174.85 389.71 174.49 387.88 173.94 385.51 C173.39 383.14 172.85 379.31 172.85 376.75Z"/>
<path fill="#fcc9b7" d="M121.06 391.9 C121.67 391.17 123.49 390.44 125.44 389.71 C127.38 388.98 131.03 388 132.74 387.52 C134.44 387.03 134.81 386.3 135.66 386.79 C136.51 387.27 137.36 388.37 137.85 390.44 C138.33 392.51 138.58 396.28 138.58 399.2 C138.58 402.12 138.21 405.64 137.85 407.96 C137.48 410.27 137.24 411.97 136.39 413.07 C135.54 414.16 134.08 414.4 132.74 414.53 C131.4 414.65 129.7 414.28 128.36 413.8 C127.02 413.31 125.62 412.82 124.71 411.61 C123.8 410.39 123.25 408.56 122.88 406.5 C122.52 404.43 122.7 401.27 122.52 399.2 C122.34 397.13 122.03 395.3 121.79 394.09 C121.55 392.87 120.45 392.63 121.06 391.9Z"/>
<path fill="#fc8f75" d="M127.99 394.09 C128.36 392.87 129.15 392.14 129.82 391.9 C130.49 391.65 131.34 391.9 132.01 392.63 C132.68 393.36 133.47 394.57 133.83 396.28 C134.2 397.98 134.26 400.9 134.2 402.85 C134.14 404.79 133.95 406.8 133.47 407.96 C132.98 409.11 132.01 409.54 131.28 409.78 C130.55 410.02 129.64 410.33 129.09 409.42 C128.54 408.5 128.24 406.01 127.99 404.31 C127.75 402.6 127.63 400.9 127.63 399.2 C127.63 397.49 127.63 395.3 127.99 394.09Z"/>
<path fill="#fcc9b7" d="M240.33 392.08 C240.51 390.16 242.15 387.52 243.61 385.51 C245.07 383.5 247.08 381.64 249.09 380.04 C251.09 378.43 254.11 377.15 255.66 375.88 C257.21 374.6 257.48 373.41 258.39 372.37 C259.31 371.33 259.76 370.55 261.13 369.64 C262.5 368.72 263.14 366.99 266.61 366.9 C270.07 366.81 279.2 367.99 281.93 369.09 C284.67 370.18 282.3 372.01 283.03 373.47 C283.76 374.93 285.62 376.2 286.31 377.85 C287.01 379.49 287.28 381.5 287.19 383.32 C287.1 385.15 285.91 386.97 285.77 388.8 C285.62 390.62 286.19 392.45 286.31 394.27 C286.44 396.09 286.9 398.73 286.53 399.74 C286.17 400.75 285.62 399.5 284.12 400.33 C282.63 401.16 279.38 403.61 277.55 404.71 C275.73 405.8 274.09 405.44 273.18 406.9 C272.26 408.36 272.63 411.09 272.08 413.47 C271.53 415.84 270.99 418.76 269.89 421.13 C268.8 423.5 266.97 426.33 265.51 427.7 C264.05 429.07 262.77 429.89 261.13 429.34 C259.49 428.8 257.66 426.51 255.66 424.42 C253.65 422.32 251.09 419.31 249.09 416.75 C247.08 414.2 244.71 412.37 243.61 409.09 C242.52 405.8 243.07 399.88 242.52 397.04 C241.97 394.21 240.15 394 240.33 392.08Z"/>
<path fill="#ffffff" d="M262.77 372.37 C263.36 370.77 264.14 370.91 265.51 370.4 C266.88 369.89 269.16 369.2 270.99 369.31 C272.81 369.42 275 370.33 276.46 371.06 C277.92 371.79 279.11 372.19 279.74 373.69 C280.38 375.18 280.47 377.88 280.29 380.04 C280.11 382.19 279.29 384.78 278.65 386.61 C278.01 388.43 277.55 390.04 276.46 390.99 C275.36 391.93 273.72 392.26 272.08 392.3 C270.44 392.34 268.07 392.15 266.61 391.2 C265.15 390.26 264.09 388.47 263.32 386.61 C262.55 384.74 262.1 382.41 262.01 380.04 C261.92 377.66 262.19 373.98 262.77 372.37Z"/>
<path fill="#fc8f75" d="M242.52 388.8 C243.16 386.51 245.07 384.05 246.9 382.23 C248.72 380.4 251.64 378.94 253.47 377.85 C255.29 376.75 256.72 376.35 257.85 375.66 C258.98 374.96 259.56 373.32 260.26 373.69 C260.95 374.05 261.35 376.06 262.01 377.85 C262.66 379.64 263.07 382.23 264.2 384.42 C265.33 386.61 267.66 388.8 268.8 390.99 C269.93 393.18 270.53 395.36 270.99 397.55 C271.44 399.74 271.5 401.93 271.53 404.12 C271.57 406.31 271.3 409.5 271.2 410.69 C271.11 411.89 271.39 410.27 270.99 411.28 C270.58 412.29 269.89 415.29 268.8 416.75 C267.7 418.21 266.24 419.31 264.42 420.04 C262.59 420.77 259.85 421.5 257.85 421.13 C255.84 420.77 254.2 419.31 252.37 417.85 C250.55 416.39 248.18 415.11 246.9 412.37 C245.62 409.64 245.35 404.16 244.71 401.42 C244.07 398.69 243.43 398.05 243.07 395.95 C242.7 393.84 241.88 391.08 242.52 388.8Z"/>
<path fill="#f24d35" d="M244.71 386.61 C245.62 384.5 248.18 382.5 250.18 381.13 C252.19 379.76 254.93 378.39 256.75 378.39 C258.58 378.39 259.67 379.76 261.13 381.13 C262.59 382.5 264.05 384.6 265.51 386.61 C266.97 388.61 268.98 390.62 269.89 393.18 C270.8 395.73 270.99 399.01 270.99 401.93 C270.99 404.85 270.26 409.87 269.89 410.69 C269.53 411.52 269.34 406.62 268.8 406.9 C268.25 407.18 267.7 410.73 266.61 412.37 C265.51 414.01 263.87 415.84 262.23 416.75 C260.58 417.66 258.58 418.21 256.75 417.85 C254.93 417.48 252.92 416.02 251.28 414.56 C249.64 413.1 247.9 411.46 246.9 409.09 C245.89 406.72 245.62 402.88 245.26 400.33 C244.89 397.77 244.8 396.05 244.71 393.76 C244.62 391.47 243.8 388.71 244.71 386.61Z"/>
<path fill="#e10000" d="M246.9 386.61 C247.72 385.14 249.45 383.59 251.28 382.77 C253.1 381.95 255.84 381.22 257.85 381.68 C259.85 382.14 261.68 383.78 263.32 385.51 C264.96 387.24 266.79 389.71 267.7 392.08 C268.61 394.45 268.8 397.37 268.8 399.74 C268.8 402.12 267.88 405.49 267.7 406.31 C267.52 407.14 268.07 404.25 267.7 404.71 C267.34 405.17 266.61 407.59 265.51 409.09 C264.42 410.58 262.77 412.81 261.13 413.69 C259.49 414.56 257.48 414.74 255.66 414.34 C253.83 413.94 251.55 413.07 250.18 411.28 C248.81 409.49 248.05 406.17 247.45 403.61 C246.84 401.06 246.75 397.96 246.57 395.95 C246.39 393.94 246.3 393.13 246.35 391.57 C246.41 390.01 246.08 388.07 246.9 386.61Z"/>
<path fill="#c9d0f7" d="M267.15 374.56 C267.37 373.01 267.97 372.41 268.8 371.82 C269.62 371.24 270.99 370.97 272.08 371.06 C273.18 371.15 274.64 371.42 275.36 372.37 C276.09 373.32 276.37 375.11 276.46 376.75 C276.55 378.39 276.28 380.58 275.91 382.23 C275.55 383.87 275 385.66 274.27 386.61 C273.54 387.55 272.45 388.01 271.53 387.92 C270.62 387.83 269.47 387.19 268.8 386.06 C268.12 384.93 267.76 383.05 267.48 381.13 C267.21 379.22 266.93 376.11 267.15 374.56Z"/>
<path fill="#94a3ee" d="M269.34 376.75 C269.49 375.75 270.35 374.89 270.99 374.56 C271.62 374.23 272.66 374.32 273.18 374.78 C273.69 375.24 273.96 376.33 274.05 377.3 C274.14 378.27 274.05 379.85 273.72 380.58 C273.39 381.31 272.68 381.68 272.08 381.68 C271.48 381.68 270.57 381.41 270.11 380.58 C269.65 379.76 269.2 377.76 269.34 376.75Z"/>
<path fill="#fc8f75" d="M279.74 376.75 C280.02 376.26 280.84 375.44 281.39 375.44 C281.93 375.44 282.79 376.08 283.03 376.75 C283.27 377.43 283.18 378.94 282.81 379.49 C282.45 380.04 281.35 380.22 280.84 380.04 C280.33 379.85 279.93 378.94 279.74 378.39 C279.56 377.85 279.47 377.24 279.74 376.75Z"/>
<path fill="#c9d0f7" d="M232.66 394.85 C233.03 393.25 234.09 393.25 234.85 393.98 C235.62 394.71 236.35 397.08 237.26 399.23 C238.18 401.39 239.42 404.49 240.33 406.9 C241.24 409.31 242.34 411.64 242.74 413.69 C243.14 415.73 243.14 417.96 242.74 419.16 C242.34 420.36 241.19 421.09 240.33 420.91 C239.47 420.73 238.5 419.64 237.59 418.07 C236.68 416.5 235.68 413.91 234.85 411.5 C234.03 409.09 233.03 406.39 232.66 403.61 C232.3 400.84 232.3 396.46 232.66 394.85Z"/>
<path fill="#c9d0f7" d="M276.46 368.54 C276.5 368.05 277.15 367.5 277.55 367.45 C277.96 367.39 278.69 367.79 278.87 368.21 C279.05 368.63 278.91 369.6 278.65 369.96 C278.39 370.33 277.7 370.64 277.34 370.4 C276.97 370.16 276.42 369.03 276.46 368.54Z"/>
</g>
<g clip-path="url(#frc)"><g transform="translate(0 274.2)">
<path fill="#fff" stroke="#777" stroke-width="0.4" d="M41.4 43.4 L43.6 42.6 L46.4 41.7 L48.9 40.3 L46.9 42.6 L44.7 44 L41.9 44.2Z"/>
<path fill="none" stroke="#666" stroke-width="0.5" d="M47.6 58.4 L50.5 65.4 L49.3 69.9 L48.4 71.4"/>
<path fill="none" stroke="#555" stroke-width="0.5" d="M40.45 64.3 L43.6 67.8 L46.9 71.1 L48.8 71.4 L51.7 71 L55.2 76.9 L59.3 83.9 L63.4 88.6 L66.3 92.1 L68 97.9 L69 101 L73.1 103.7 L76.8 109.8 L81.1 115.9 L82.3 122.1 L83.5 128.2 L85.4 132.5 L91.5 131.9 L98.9 128.2 L106.2 125.8 L113.6 123.3 L119.7 120.8 L124.9 116.7 L130.1 114 L134.5 112.3 L138 110.5 L141.5 107.9 L142.4 104.4 L145 102.7 L146.8 100 L148.5 97.4 L150.3 93.9 L148.5 91.3 L145 89.5 L141.5 87.8 L138 86 L136.7 82.5 L136.3 78.1 L135.4 79.9 L133.6 82.5 L131 84.3 L127.5 86 L123.1 86.9 L119.5 87.3 L117.5 86.5 L116.5 83 L115.5 79 L114.3 80 L113.5 83 L112.4 80.5 L110.1 75.5 L107 71.5 L105.4 69.9 L102.8 66.5 L101.9 65.5 L102.5 64.4 L104.5 62.5 L107.2 61.7 L111.2 62.9 L113.5 65.5 L115.3 68.5 L117.9 72 L120 73.4 L123.1 73.8 L127.5 75.9 L131 76.4 L134.5 75.1 L137.2 74.9 L138.5 76.5 L139.8 79.3 L142.4 80.9 L149.4 82 L158.2 82.4 L166.7 82.1 L170 81.6 L176.2 81.2 L178.4 83.1 L181 85.8 L183.6 88.4 L186.3 88.8 L188 91 L190.6 91.9 L193.7 91 L189.8 93.6 L188.9 95.4 L191.5 98 L195 99.8 L198.5 98 L200.3 94.5 L202.9 94.5 L202 98 L202.9 105 L203.3 110 L205.2 113.4 L207.5 121.5 L210.4 128.5 L213.4 134.4 L215.7 140.2 L218 146.1 L221 150.9 L225 148.4 L227.4 146.1 L230.3 142.6 L230.9 136.7 L232 130.9 L232.6 125 L233.2 120.4 L236.7 118 L241.4 114.5 L246 109.9 L251.9 105.2 L256.6 100.5 L260 98.2 L263.8 95.2 L269.5 94.7 L273.8 89.5 L274.2 93.3 L277.6 92.8 L279.5 96.2 L282.8 101.4 L286.6 105.6 L288.8 108 L289.4 109.7 L290 113.8 L288.8 119 L292.3 120.2 L295.8 117.8 L298.2 116.7 L299.6 113.8 L300.5 116.7 L302.9 117.8 L303.4 124.3 L304.6 128.4 L306.4 133 L306.6 137.7 L306.4 142.4 L306.4 143.5 L305.5 148.8 L306.1 151.7 L308.7 152.3 L311 154 L313.4 155.8 L313.9 160.4 L314.5 164.5 L315.7 168 L317.5 171.5 L319.2 173.9 L322.4 175.2 L322.4 178.2 L320.4 177.4 L318 176.2 L314.5 174.5 L311.6 172.1 L308.7 170.4 L305.2 167.4 L304 165.1 L301.7 163.4 L298.2 162.5 L294.7 161.6 L293.2 161 L292.8 161.8 L293.2 162.8 L294.7 165.1 L297.6 168 L300.5 169.8 L302.9 172.7 L305.2 175 L306.9 177.4 L308.1 180.9 L308.7 183.25 L82.9 183.25 L85.4 180.9 L91.5 174.8 L98.9 168.7 L106.2 160.1 L109.9 152.7 L113.6 146.6 L115.4 139.2 L113.6 136.2 L103.8 138 L95.2 140.5 L89 141.7 L86.6 139.2 L81.7 136.8 L84.1 133.1 L80.5 128.2 L74.3 123.3 L69.4 119.6 L65.8 112.3 L60.8 107.4 L59.6 100 L58.7 97.9 L55.2 93.2 L52.8 88.6 L51.7 83.9 L48.2 76.9 L44.7 71 L41.2 66.4 L40.45 66.2Z M322.4 135.4 L321.5 135.4 L319.2 133.6 L315.4 132.4 L315.4 129.8 L312.2 130.1 L311.9 133 L310.4 137.7 L308.7 143.5 L309.3 147 L311.6 151.7 L314.5 154.6 L318 156.4 L322.4 158.1Z M40.45 38.9 L44.7 38.1 L48.1 36.7 L49.7 35.9 L52.5 36.1 L54.8 35.6 L55.9 36.4 L54.5 37.3 L54.8 41.2 L54.5 44.5 L52.5 48.4 L50.8 52.3 L49.2 56.3 L47.5 58.2 L43.6 58.8 L40.45 58.8Z M231.5 144.6 L233.5 146.3 L235.8 149.5 L237.8 153 L238.4 155.8 L237.3 158.6 L234.6 160 L232.3 159.2 L231 156 L230.8 151 L231 147Z M124.2 133.2 L125.5 132.5 L127.8 132.6 L128.6 133.4 L127.2 134.1 L125 134Z M282.6 129 L283.4 129.2 L283.3 133 L282.6 136.5 L282.1 136.4 L282.3 132.5Z M281.6 139.8 L282.2 139.9 L282.1 141.3 L281.5 141.2Z M285.3 150.8 L286 151 L285.8 152.3 L285.1 152Z M286.6 154.3 L287.4 154.5 L287.6 156 L286.8 155.8Z"/>
</g></g>
<path d="M230.42 297 V456.85" stroke="#7a7a7a" stroke-width="0.85" stroke-dasharray="2.5 1.3 0.6 1.4" fill="none"/><path fill="none" stroke="#111" stroke-width="1.2" d="M168.05 367.88 H174.85 M171.45 364.48 V371.27 M198.18 377.9 H204.98 M201.58 374.5 V381.3 M198.18 387.92 H204.98 M201.58 384.52 V391.32 M168.05 407.97 H174.85 M171.45 404.57 V411.37 M258.46 367.88 H265.25 M261.86 364.48 V371.27 M248.41 397.95 H255.21 M251.81 394.55 V401.35 M248.41 407.97 H255.21 M251.81 404.57 V411.37 M258.46 407.97 H265.25 M261.86 404.57 V411.37"/><text x="133.7" y="332.9" font-size="11.4" fill="#111">+3.95% per year</text><text x="234.5" y="332.9" font-size="11.4" fill="#111">+1.27% per year</text>
<path fill="none" stroke="#cfcfcf" stroke-width="0.8" d="M70.5 295.8 V289.4 M70.5 458.05 V464.45 M110.68 295.8 V289.4 M110.68 458.05 V464.45 M150.86 295.8 V289.4 M150.86 458.05 V464.45 M191.04 295.8 V289.4 M191.04 458.05 V464.45 M231.22 295.8 V289.4 M231.22 458.05 V464.45 M271.4 295.8 V289.4 M271.4 458.05 V464.45 M311.58 295.8 V289.4 M311.58 458.05 V464.45 M39.85 417.6 H33.95 M323 417.6 H328.9 M39.85 377.5 H33.95 M323 377.5 H328.9 M39.85 337.4 H33.95 M323 337.4 H328.9 M39.85 297.3 H33.95 M323 297.3 H328.9"/>
<rect x="40.45" y="296.4" width="281.95" height="161.05" fill="none" stroke="#2e2e2e" stroke-width="1.2"/>
<text transform="translate(70.5 474.15) scale(0.84 1)" text-anchor="middle" font-size="11.4" fill="#333">40°E</text>
<text transform="translate(110.68 474.15) scale(0.84 1)" text-anchor="middle" font-size="11.4" fill="#333">50°E</text>
<text transform="translate(150.86 474.15) scale(0.84 1)" text-anchor="middle" font-size="11.4" fill="#333">60°E</text>
<text transform="translate(191.04 474.15) scale(0.84 1)" text-anchor="middle" font-size="11.4" fill="#333">70°E</text>
<text transform="translate(231.22 474.15) scale(0.84 1)" text-anchor="middle" font-size="11.4" fill="#333">80°E</text>
<text transform="translate(271.4 474.15) scale(0.84 1)" text-anchor="middle" font-size="11.4" fill="#333">90°E</text>
<text transform="translate(311.58 474.15) scale(0.84 1)" text-anchor="middle" font-size="11.4" fill="#333">100°E</text>
<text transform="translate(32.75 417.6) rotate(-90) scale(0.84 1)" text-anchor="middle" font-size="11.4" fill="#333">10°N</text>
<text transform="translate(32.75 377.5) rotate(-90) scale(0.84 1)" text-anchor="middle" font-size="11.4" fill="#333">20°N</text>
<text transform="translate(32.75 337.4) rotate(-90) scale(0.84 1)" text-anchor="middle" font-size="11.4" fill="#333">30°N</text>
<text transform="translate(32.75 297.3) rotate(-90) scale(0.84 1)" text-anchor="middle" font-size="11.4" fill="#333">40°N</text>
<text x="0.4" y="287" font-size="18" font-weight="bold" fill="#000">c</text>
<text x="41.4" y="493.1" font-size="11.32" font-weight="bold" fill="#111" xml:space="preserve"><tspan>Trend in pre-monsoon season ACE (10</tspan><tspan dx="0.6" dy="-5" font-size="8.4">2</tspan><tspan dx="2.2" dy="5">knots</tspan><tspan dx="0.3" dy="-5" font-size="8.4">2</tspan><tspan dx="1.5" dy="5">yr</tspan><tspan dx="0.2" dy="-5" font-size="8.4">-1</tspan><tspan dx="0.5" dy="5">)</tspan></text>
<rect x="40.65" y="502.85" width="13.4" height="6.4" fill="#0a4fd8" stroke="#7a7a7a" stroke-width="0.9"/>
<text transform="translate(56.6 510) scale(0.86 1)" font-size="10.5" fill="#222">&lt;-0.8</text>
<rect x="40.65" y="517.95" width="13.4" height="6.4" fill="#5a78e0" stroke="#7a7a7a" stroke-width="0.9"/>
<text transform="translate(56.6 525.1) scale(0.86 1)" font-size="10.5" fill="#222">-0.8 ~ -0.6</text>
<rect x="102.35" y="502.85" width="13.4" height="6.4" fill="#94a3ee" stroke="#7a7a7a" stroke-width="0.9"/>
<text transform="translate(118.3 510) scale(0.86 1)" font-size="10.5" fill="#222">-0.6 ~ -0.4</text>
<rect x="102.35" y="517.95" width="13.4" height="6.4" fill="#c9d0f7" stroke="#7a7a7a" stroke-width="0.9"/>
<text transform="translate(118.3 525.1) scale(0.86 1)" font-size="10.5" fill="#222">-0.4 ~ -0.2</text>
<rect x="163.75" y="502.85" width="13.4" height="6.4" fill="#ffffff" stroke="#7a7a7a" stroke-width="0.9"/>
<text transform="translate(179.7 510) scale(0.86 1)" font-size="10.5" fill="#222">-0.2 ~ 0.2</text>
<rect x="163.75" y="517.95" width="13.4" height="6.4" fill="#fcc9b7" stroke="#7a7a7a" stroke-width="0.9"/>
<text transform="translate(179.7 525.1) scale(0.86 1)" font-size="10.5" fill="#222">0.2 ~ 0.4</text>
<rect x="222.45" y="502.85" width="13.4" height="6.4" fill="#fc8f75" stroke="#7a7a7a" stroke-width="0.9"/>
<text transform="translate(238.4 510) scale(0.86 1)" font-size="10.5" fill="#222">0.4 ~ 0.6</text>
<rect x="222.45" y="517.95" width="13.4" height="6.4" fill="#f24d35" stroke="#7a7a7a" stroke-width="0.9"/>
<text transform="translate(238.4 525.1) scale(0.86 1)" font-size="10.5" fill="#222">0.6 ~ 0.8</text>
<rect x="277.65" y="502.85" width="13.4" height="6.4" fill="#e10000" stroke="#7a7a7a" stroke-width="0.9"/>
<text transform="translate(293.6 510) scale(0.86 1)" font-size="10.5" fill="#222">&gt; 0.8</text>
<rect x="396.5" y="296.1" width="281.95" height="161.05" fill="#e0e0e0"/>
<g clip-path="url(#ocd)">
<rect x="396.5" y="296.1" width="281.95" height="161.05" fill="#ffffff"/>
<path fill="#fcb9a3" d="M501.31 356.64 C502.48 354.54 507.15 355.5 510.07 355.42 C512.99 355.33 515.33 356.35 518.83 356.12 C522.34 355.88 526.72 354.95 531.09 354.01 C535.47 353.08 539.85 349.93 545.11 350.51 C550.36 351.09 559.71 345.26 562.63 357.52 C565.55 369.78 564.38 413.05 562.63 424.09 C560.88 435.12 555.62 424.26 552.12 423.74 C548.61 423.21 545.11 422.04 541.61 420.93 C538.1 419.82 533.72 418.31 531.09 417.08 C528.47 415.85 527.3 415.56 525.84 413.58 C524.38 411.59 523.21 408.09 522.34 405.17 C521.46 402.25 521.31 399.27 520.58 396.06 C519.85 392.85 518.98 388.76 517.96 385.9 C516.93 383.04 515.33 381.28 514.45 378.89 C513.58 376.5 513.43 372.18 512.7 371.53 C511.97 370.89 511.09 374.16 510.07 375.04 C509.05 375.91 507.74 377.96 506.57 376.79 C505.4 375.62 503.94 371.39 503.07 368.03 C502.19 364.67 500.15 358.74 501.31 356.64Z"/>
<path fill="#f56a50" d="M517.96 361.02 C519.07 358.69 521.61 358.34 524.09 357.52 C526.57 356.7 529.34 356.7 532.85 356.12 C536.35 355.53 540.15 353.78 545.11 354.01 C550.07 354.25 559.71 346.42 562.63 357.52 C565.55 368.61 563.8 410.13 562.63 420.58 C561.46 431.04 558.54 420.67 555.62 420.23 C552.7 419.8 548.61 418.77 545.11 417.96 C541.61 417.14 537.66 416.35 534.6 415.33 C531.53 414.31 528.76 413.87 526.72 411.82 C524.67 409.78 523.3 406.28 522.34 403.07 C521.37 399.85 521.52 396.06 520.93 392.55 C520.35 389.05 519.42 385.55 518.83 382.04 C518.25 378.54 517.58 375.04 517.43 371.53 C517.28 368.03 516.85 363.36 517.96 361.02Z"/>
<path fill="#e10000" d="M520.93 362.77 C522.25 360.88 525.31 360.73 527.59 360.15 C529.87 359.56 531.68 360 534.6 359.27 C537.52 358.54 540.44 355.47 545.11 355.77 C549.78 356.06 559.71 350.8 562.63 361.02 C565.55 371.24 563.8 407.74 562.63 417.08 C561.46 426.42 557.96 417.37 555.62 417.08 C553.28 416.79 551.53 415.91 548.61 415.33 C545.69 414.74 541.46 414.45 538.1 413.58 C534.74 412.7 530.86 412.12 528.47 410.07 C526.07 408.03 524.76 404.23 523.74 401.31 C522.72 398.39 522.86 395.47 522.34 392.55 C521.81 389.64 521.02 387.3 520.58 383.8 C520.15 380.29 519.65 375.04 519.71 371.53 C519.77 368.03 519.62 364.67 520.93 362.77Z"/>
<path fill="#ffffff" d="M544.76 386.95 C544.93 386.22 545.99 384.96 546.86 384.67 C547.74 384.38 549.37 384.7 550.01 385.2 C550.66 385.69 550.95 386.95 550.72 387.65 C550.48 388.35 549.43 389.17 548.61 389.4 C547.8 389.64 546.45 389.46 545.81 389.05 C545.17 388.64 544.58 387.68 544.76 386.95Z"/>
<path fill="#fcb9a3" d="M443.5 408.67 C444.96 407.5 448.18 407.27 450.51 406.57 C452.85 405.87 454.31 405.87 457.52 404.47 C460.73 403.07 466.28 400.09 469.78 398.16 C473.28 396.23 476.2 394.13 478.54 392.91 C480.88 391.68 482.45 389.99 483.8 390.8 C485.14 391.62 486.25 395.18 486.6 397.81 C486.95 400.44 486.51 404.53 485.9 406.57 C485.28 408.61 482.39 408.96 482.92 410.07 C483.45 411.18 486.57 412.41 489.05 413.23 C491.53 414.04 495.77 413.46 497.81 414.98 C499.85 416.5 500.67 419.36 501.31 422.34 C501.96 425.31 503.12 430.57 501.66 432.85 C500.2 435.12 495.82 435.65 492.55 436 C489.28 436.35 484.67 436.29 482.04 434.95 C479.42 433.61 477.96 431.15 476.79 427.94 C475.62 424.73 476.79 418.31 475.04 415.68 C473.28 413.05 469.2 412.82 466.28 412.18 C463.36 411.53 460.73 411.53 457.52 411.82 C454.31 412.12 449.64 413.64 447.01 413.93 C444.38 414.22 442.34 414.45 441.75 413.58 C441.17 412.7 442.04 409.84 443.5 408.67Z"/>
<path fill="#b4bdf3" d="M499.56 394.31 C500.58 393.2 503.94 392.67 506.57 392.91 C509.2 393.14 513.23 393.72 515.33 395.71 C517.43 397.69 518.01 401.84 519.18 404.82 C520.35 407.8 521.61 410.66 522.34 413.58 C523.07 416.5 524.09 420.35 523.56 422.34 C523.04 424.32 520.85 425.72 519.18 425.49 C517.52 425.26 515.39 422.86 513.58 420.93 C511.77 419.01 510.07 416.26 508.32 413.93 C506.57 411.59 504.38 409.31 503.07 406.92 C501.75 404.53 501.02 401.66 500.44 399.56 C499.85 397.46 498.54 395.42 499.56 394.31Z"/>
<path fill="#5a78e0" d="M511.82 400.44 C512.06 399.97 513.2 399.62 513.58 399.91 C513.96 400.2 514.34 401.72 514.1 402.19 C513.87 402.66 512.55 403.01 512.18 402.72 C511.8 402.42 511.59 400.91 511.82 400.44Z"/>
<path fill="#5a78e0" d="M515.68 415.68 C515.88 415.09 517.43 414.69 517.96 414.98 C518.48 415.27 519.04 416.85 518.83 417.43 C518.63 418.01 517.26 418.77 516.73 418.48 C516.2 418.19 515.47 416.26 515.68 415.68Z"/>
<path fill="#fcb9a3" d="M588.42 395.18 C589.42 392.15 592.15 390.95 594.39 389.22 C596.62 387.48 599.36 385.74 601.84 384.74 C604.33 383.75 606.82 384 609.3 383.25 C611.79 382.5 614.52 380.02 616.76 380.27 C619 380.52 621.23 382.5 622.72 384.74 C624.22 386.98 624.96 390.71 625.71 393.69 C626.45 396.67 626.2 399.65 627.2 402.64 C628.19 405.62 630.63 408.6 631.67 411.59 C632.72 414.57 632.91 417.55 633.46 420.53 C634.01 423.52 635.13 426.5 634.95 429.48 C634.78 432.46 632.91 435.45 632.42 438.43 C631.92 441.41 633.21 445.09 631.97 447.38 C630.73 449.67 627 450.86 624.96 452.15 C622.92 453.44 622.35 455.13 619.74 455.13 C617.13 455.13 611.24 455.18 609.3 452.15 C607.36 449.12 608.61 440.67 608.11 436.94 C607.61 433.21 607.86 431.47 606.32 429.78 C604.78 428.09 601.1 428.79 598.86 426.8 C596.62 424.81 594.64 421.08 592.9 417.85 C591.16 414.62 589.17 411.19 588.42 407.41 C587.68 403.63 587.43 398.21 588.42 395.18Z"/>
<path fill="#f56a50" d="M597.37 393.69 C598.86 391.95 602.09 389.71 604.83 389.22 C607.56 388.72 611.29 389.46 613.78 390.71 C616.26 391.95 618.25 394.19 619.74 396.67 C621.23 399.16 621.48 403.13 622.72 405.62 C623.97 408.11 625.71 409.6 627.2 411.59 C628.69 413.57 631.13 415.31 631.67 417.55 C632.22 419.79 631.72 423.22 630.48 425.01 C629.24 426.8 627 427.74 624.22 428.29 C621.43 428.84 617.01 428.79 613.78 428.29 C610.54 427.79 607.31 427.05 604.83 425.31 C602.34 423.57 600.35 420.83 598.86 417.85 C597.37 414.87 596.38 410.44 595.88 407.41 C595.38 404.38 595.63 401.94 595.88 399.65 C596.13 397.37 595.88 395.43 597.37 393.69Z"/>
<path fill="#e10000" d="M600.35 396.67 C601.47 394.98 603.09 392.79 604.83 392.5 C606.57 392.2 609.5 393.19 610.79 394.88 C612.09 396.57 612.78 400.1 612.58 402.64 C612.38 405.17 610.35 407.56 609.6 410.09 C608.85 412.63 609.4 416.41 608.11 417.85 C606.82 419.29 603.39 419.79 601.84 418.74 C600.3 417.7 599.48 414.27 598.86 411.59 C598.24 408.9 597.87 405.12 598.12 402.64 C598.36 400.15 599.23 398.36 600.35 396.67Z"/>
<path fill="#e10000" d="M616.76 410.09 C617.45 408.98 619.79 407.86 621.23 407.86 C622.67 407.86 624.79 408.85 625.41 410.09 C626.03 411.34 625.78 414.2 624.96 415.31 C624.14 416.43 621.8 416.93 620.49 416.81 C619.17 416.68 617.68 415.69 617.06 414.57 C616.44 413.45 616.06 411.21 616.76 410.09Z"/>
<path fill="#b4bdf3" d="M639.13 405.62 C640.12 404.25 643.35 405.62 645.09 406.37 C646.83 407.11 648.95 408.23 649.57 410.09 C650.19 411.96 649.57 415.64 648.82 417.55 C648.08 419.46 646.46 421.03 645.09 421.58 C643.73 422.12 641.61 422 640.62 420.83 C639.63 419.66 639.38 417.1 639.13 414.57 C638.88 412.03 638.13 406.99 639.13 405.62Z"/>
<path fill="#b4bdf3" d="M627.2 386.23 C628.19 384.99 632.96 386.23 634.65 384.74 C636.34 383.25 636.05 378.33 637.34 377.28 C638.63 376.24 641.07 376.74 642.41 378.48 C643.75 380.22 645.14 384.89 645.39 387.72 C645.64 390.56 644.7 393.44 643.9 395.48 C643.11 397.52 641.91 398.96 640.62 399.95 C639.33 400.95 637.64 401.69 636.15 401.44 C634.65 401.2 632.91 400 631.67 398.46 C630.43 396.92 629.43 394.24 628.69 392.2 C627.94 390.16 626.2 387.48 627.2 386.23Z"/>
<path fill="#b4bdf3" d="M614.97 372.06 C615.42 371.19 617.4 370.32 618.25 370.57 C619.09 370.82 619.99 372.56 620.04 373.56 C620.09 374.55 619.29 376.17 618.55 376.54 C617.8 376.91 616.16 376.54 615.57 375.79 C614.97 375.05 614.52 372.93 614.97 372.06Z"/>
</g>
<g clip-path="url(#frd)"><g transform="translate(356.05 273.9)">
<path fill="#fff" stroke="#777" stroke-width="0.4" d="M41.4 43.4 L43.6 42.6 L46.4 41.7 L48.9 40.3 L46.9 42.6 L44.7 44 L41.9 44.2Z"/>
<path fill="none" stroke="#666" stroke-width="0.5" d="M47.6 58.4 L50.5 65.4 L49.3 69.9 L48.4 71.4"/>
<path fill="none" stroke="#555" stroke-width="0.5" d="M40.45 64.3 L43.6 67.8 L46.9 71.1 L48.8 71.4 L51.7 71 L55.2 76.9 L59.3 83.9 L63.4 88.6 L66.3 92.1 L68 97.9 L69 101 L73.1 103.7 L76.8 109.8 L81.1 115.9 L82.3 122.1 L83.5 128.2 L85.4 132.5 L91.5 131.9 L98.9 128.2 L106.2 125.8 L113.6 123.3 L119.7 120.8 L124.9 116.7 L130.1 114 L134.5 112.3 L138 110.5 L141.5 107.9 L142.4 104.4 L145 102.7 L146.8 100 L148.5 97.4 L150.3 93.9 L148.5 91.3 L145 89.5 L141.5 87.8 L138 86 L136.7 82.5 L136.3 78.1 L135.4 79.9 L133.6 82.5 L131 84.3 L127.5 86 L123.1 86.9 L119.5 87.3 L117.5 86.5 L116.5 83 L115.5 79 L114.3 80 L113.5 83 L112.4 80.5 L110.1 75.5 L107 71.5 L105.4 69.9 L102.8 66.5 L101.9 65.5 L102.5 64.4 L104.5 62.5 L107.2 61.7 L111.2 62.9 L113.5 65.5 L115.3 68.5 L117.9 72 L120 73.4 L123.1 73.8 L127.5 75.9 L131 76.4 L134.5 75.1 L137.2 74.9 L138.5 76.5 L139.8 79.3 L142.4 80.9 L149.4 82 L158.2 82.4 L166.7 82.1 L170 81.6 L176.2 81.2 L178.4 83.1 L181 85.8 L183.6 88.4 L186.3 88.8 L188 91 L190.6 91.9 L193.7 91 L189.8 93.6 L188.9 95.4 L191.5 98 L195 99.8 L198.5 98 L200.3 94.5 L202.9 94.5 L202 98 L202.9 105 L203.3 110 L205.2 113.4 L207.5 121.5 L210.4 128.5 L213.4 134.4 L215.7 140.2 L218 146.1 L221 150.9 L225 148.4 L227.4 146.1 L230.3 142.6 L230.9 136.7 L232 130.9 L232.6 125 L233.2 120.4 L236.7 118 L241.4 114.5 L246 109.9 L251.9 105.2 L256.6 100.5 L260 98.2 L263.8 95.2 L269.5 94.7 L273.8 89.5 L274.2 93.3 L277.6 92.8 L279.5 96.2 L282.8 101.4 L286.6 105.6 L288.8 108 L289.4 109.7 L290 113.8 L288.8 119 L292.3 120.2 L295.8 117.8 L298.2 116.7 L299.6 113.8 L300.5 116.7 L302.9 117.8 L303.4 124.3 L304.6 128.4 L306.4 133 L306.6 137.7 L306.4 142.4 L306.4 143.5 L305.5 148.8 L306.1 151.7 L308.7 152.3 L311 154 L313.4 155.8 L313.9 160.4 L314.5 164.5 L315.7 168 L317.5 171.5 L319.2 173.9 L322.4 175.2 L322.4 178.2 L320.4 177.4 L318 176.2 L314.5 174.5 L311.6 172.1 L308.7 170.4 L305.2 167.4 L304 165.1 L301.7 163.4 L298.2 162.5 L294.7 161.6 L293.2 161 L292.8 161.8 L293.2 162.8 L294.7 165.1 L297.6 168 L300.5 169.8 L302.9 172.7 L305.2 175 L306.9 177.4 L308.1 180.9 L308.7 183.25 L82.9 183.25 L85.4 180.9 L91.5 174.8 L98.9 168.7 L106.2 160.1 L109.9 152.7 L113.6 146.6 L115.4 139.2 L113.6 136.2 L103.8 138 L95.2 140.5 L89 141.7 L86.6 139.2 L81.7 136.8 L84.1 133.1 L80.5 128.2 L74.3 123.3 L69.4 119.6 L65.8 112.3 L60.8 107.4 L59.6 100 L58.7 97.9 L55.2 93.2 L52.8 88.6 L51.7 83.9 L48.2 76.9 L44.7 71 L41.2 66.4 L40.45 66.2Z M322.4 135.4 L321.5 135.4 L319.2 133.6 L315.4 132.4 L315.4 129.8 L312.2 130.1 L311.9 133 L310.4 137.7 L308.7 143.5 L309.3 147 L311.6 151.7 L314.5 154.6 L318 156.4 L322.4 158.1Z M40.45 38.9 L44.7 38.1 L48.1 36.7 L49.7 35.9 L52.5 36.1 L54.8 35.6 L55.9 36.4 L54.5 37.3 L54.8 41.2 L54.5 44.5 L52.5 48.4 L50.8 52.3 L49.2 56.3 L47.5 58.2 L43.6 58.8 L40.45 58.8Z M231.5 144.6 L233.5 146.3 L235.8 149.5 L237.8 153 L238.4 155.8 L237.3 158.6 L234.6 160 L232.3 159.2 L231 156 L230.8 151 L231 147Z M124.2 133.2 L125.5 132.5 L127.8 132.6 L128.6 133.4 L127.2 134.1 L125 134Z M282.6 129 L283.4 129.2 L283.3 133 L282.6 136.5 L282.1 136.4 L282.3 132.5Z M281.6 139.8 L282.2 139.9 L282.1 141.3 L281.5 141.2Z M285.3 150.8 L286 151 L285.8 152.3 L285.1 152Z M286.6 154.3 L287.4 154.5 L287.6 156 L286.8 155.8Z"/>
</g></g>
<path d="M586.47 296.7 V456.55" stroke="#7a7a7a" stroke-width="0.85" stroke-dasharray="2.5 1.3 0.6 1.4" fill="none"/><path fill="none" stroke="#111" stroke-width="1.2" d="M534.15 367.57 H540.95 M537.55 364.17 V370.97 M534.15 377.6 H540.95 M537.55 374.2 V381 M554.24 377.6 H561.03 M557.63 374.2 V381 M534.15 397.65 H540.95 M537.55 394.25 V401.05 M524.1 407.67 H530.9 M527.5 404.27 V411.07 M534.15 407.67 H540.95 M537.55 404.27 V411.07 M604.46 397.65 H611.26 M607.86 394.25 V401.05 M604.46 407.67 H611.26 M607.86 404.27 V411.07"/><text x="488.8" y="332.6" font-size="11.45" fill="#111">+2.17% per year</text><text x="590.2" y="332.6" font-size="11.45" fill="#111">+0.11% per year</text>
<path fill="none" stroke="#cfcfcf" stroke-width="0.8" d="M426.55 295.5 V289.1 M426.55 457.75 V464.15 M466.73 295.5 V289.1 M466.73 457.75 V464.15 M506.91 295.5 V289.1 M506.91 457.75 V464.15 M547.09 295.5 V289.1 M547.09 457.75 V464.15 M587.27 295.5 V289.1 M587.27 457.75 V464.15 M627.45 295.5 V289.1 M627.45 457.75 V464.15 M667.63 295.5 V289.1 M667.63 457.75 V464.15 M395.9 417.3 H390 M679.05 417.3 H684.95 M395.9 377.2 H390 M679.05 377.2 H684.95 M395.9 337.1 H390 M679.05 337.1 H684.95 M395.9 297 H390 M679.05 297 H684.95"/>
<rect x="396.5" y="296.1" width="281.95" height="161.05" fill="none" stroke="#2e2e2e" stroke-width="1.2"/>
<text transform="translate(426.55 473.85) scale(0.84 1)" text-anchor="middle" font-size="11.4" fill="#333">40°E</text>
<text transform="translate(466.73 473.85) scale(0.84 1)" text-anchor="middle" font-size="11.4" fill="#333">50°E</text>
<text transform="translate(506.91 473.85) scale(0.84 1)" text-anchor="middle" font-size="11.4" fill="#333">60°E</text>
<text transform="translate(547.09 473.85) scale(0.84 1)" text-anchor="middle" font-size="11.4" fill="#333">70°E</text>
<text transform="translate(587.27 473.85) scale(0.84 1)" text-anchor="middle" font-size="11.4" fill="#333">80°E</text>
<text transform="translate(627.45 473.85) scale(0.84 1)" text-anchor="middle" font-size="11.4" fill="#333">90°E</text>
<text transform="translate(667.63 473.85) scale(0.84 1)" text-anchor="middle" font-size="11.4" fill="#333">100°E</text>
<text transform="translate(388.8 417.3) rotate(-90) scale(0.84 1)" text-anchor="middle" font-size="11.4" fill="#333">10°N</text>
<text transform="translate(388.8 377.2) rotate(-90) scale(0.84 1)" text-anchor="middle" font-size="11.4" fill="#333">20°N</text>
<text transform="translate(388.8 337.1) rotate(-90) scale(0.84 1)" text-anchor="middle" font-size="11.4" fill="#333">30°N</text>
<text transform="translate(388.8 297) rotate(-90) scale(0.84 1)" text-anchor="middle" font-size="11.4" fill="#333">40°N</text>
<text x="355.5" y="287.3" font-size="18" font-weight="bold" fill="#000">d</text>
<text x="396.6" y="492.7" font-size="11.32" font-weight="bold" fill="#111" xml:space="preserve"><tspan>Trend in Track Density (10</tspan><tspan dx="1" dy="-5" font-size="8.4">-2</tspan><tspan dx="2.2" dy="5">yr</tspan><tspan dx="0.2" dy="-5" font-size="8.4">-1</tspan><tspan dx="0.8" dy="5">)</tspan></text>
<rect x="396.55" y="502.55" width="13.4" height="6.4" fill="#0a4fd8" stroke="#7a7a7a" stroke-width="0.9"/>
<text transform="translate(412.5 509.7) scale(0.86 1)" font-size="10.5" fill="#222">&lt; -0.6</text>
<rect x="396.55" y="517.45" width="13.4" height="6.4" fill="#5a78e0" stroke="#7a7a7a" stroke-width="0.9"/>
<text transform="translate(412.5 524.6) scale(0.86 1)" font-size="10.5" fill="#222">-0.6 ~ -0.4</text>
<rect x="458.55" y="502.55" width="13.4" height="6.4" fill="#b4bdf3" stroke="#7a7a7a" stroke-width="0.9"/>
<text transform="translate(474.5 509.7) scale(0.86 1)" font-size="10.5" fill="#222">-0.4 ~ -0.2</text>
<rect x="458.55" y="517.45" width="13.4" height="6.4" fill="#ffffff" stroke="#7a7a7a" stroke-width="0.9"/>
<text transform="translate(474.5 524.6) scale(0.86 1)" font-size="10.5" fill="#222">-0.2 ~ 0.2</text>
<rect x="519.85" y="502.55" width="13.4" height="6.4" fill="#fcb9a3" stroke="#7a7a7a" stroke-width="0.9"/>
<text transform="translate(535.8 509.7) scale(0.86 1)" font-size="10.5" fill="#222">0.2 ~ 0.4</text>
<rect x="519.85" y="517.45" width="13.4" height="6.4" fill="#f56a50" stroke="#7a7a7a" stroke-width="0.9"/>
<text transform="translate(535.8 524.6) scale(0.86 1)" font-size="10.5" fill="#222">0.4 ~ 0.6</text>
<rect x="575.35" y="502.55" width="13.4" height="6.4" fill="#e10000" stroke="#7a7a7a" stroke-width="0.9"/>
<text transform="translate(591.3 509.7) scale(0.86 1)" font-size="10.5" fill="#222">&gt; 0.6</text>
<rect x="40.45" y="572.9" width="281.95" height="161.05" fill="#e0e0e0"/>
<g clip-path="url(#oce)">
<rect x="40.45" y="572.9" width="281.95" height="161.05" fill="#ffffc4"/>
<path fill="#e9bda1" d="M84.31 680.73 C85.26 678.77 87.15 680.67 90 680.35 C92.85 680.03 97.59 680.03 101.39 678.83 C105.18 677.63 109.61 675.04 112.77 673.14 C115.94 671.24 117.83 669.34 120.36 667.45 C122.9 665.55 125.11 663.18 127.96 661.75 C130.8 660.33 134.91 660.49 137.45 658.91 C139.98 657.32 142.51 654.95 143.14 652.26 C143.77 649.57 141.87 645.3 141.24 642.77 C140.61 640.24 138.39 638.66 139.34 637.08 C140.29 635.5 142.51 633.92 146.93 633.28 C151.36 632.65 161.17 632.65 165.91 633.28 C170.66 633.92 173.19 634.55 175.4 637.08 C177.62 639.61 178.25 644.99 179.2 648.47 C180.15 651.95 179.51 655.43 181.09 657.96 C182.68 660.49 186.79 663.02 188.69 663.65 C190.58 664.28 191.22 663.33 192.48 661.75 C193.75 660.17 195.01 656.37 196.28 654.16 C197.54 651.95 198.49 649.42 200.07 648.47 C201.65 647.52 204.18 646.89 205.77 648.47 C207.35 650.05 208.55 653.84 209.56 657.96 C210.57 662.07 211.46 668.71 211.84 673.14 C212.22 677.57 212.54 681.62 211.84 684.53 C211.14 687.44 209.31 689.27 207.66 690.6 C206.02 691.93 203.87 692.81 201.97 692.5 C200.07 692.18 197.86 691.23 196.28 688.7 C194.7 686.17 194.06 679.84 192.48 677.31 C190.9 674.78 189.32 673.83 186.79 673.52 C184.26 673.2 180.78 675.42 177.3 675.42 C173.82 675.42 169.71 673.83 165.91 673.52 C162.12 673.2 157.69 673.2 154.53 673.52 C151.36 673.83 148.83 673.83 146.93 675.42 C145.04 677 144.09 680.16 143.14 683.01 C142.19 685.85 142.51 689.97 141.24 692.5 C139.98 695.03 137.76 697.56 135.55 698.19 C133.33 698.82 130.49 697.24 127.96 696.29 C125.43 695.34 123.53 693.13 120.36 692.5 C117.2 691.86 112.77 692.5 108.98 692.5 C105.18 692.5 101.7 692.56 97.59 692.5 C93.48 692.43 86.52 694.08 84.31 692.12 C82.09 690.16 83.36 682.69 84.31 680.73Z"/>
<path fill="#c4878e" d="M120.2 669.6 C120.88 668.43 122.15 667.58 123.7 666.7 C125.25 665.82 127.55 664.88 129.5 664.3 C131.45 663.72 134.03 663.78 135.4 663.2 C136.77 662.62 136.73 661.58 137.7 660.8 C138.67 660.02 140.23 659.8 141.2 658.5 C142.17 657.2 142.53 654.42 143.5 653 C144.47 651.58 146.33 649.5 147 650 C147.67 650.5 148.08 654.2 147.5 656 C146.92 657.8 144.35 659.02 143.5 660.8 C142.65 662.58 143.08 664.93 142.4 666.7 C141.72 668.47 140.08 669.95 139.4 671.4 C138.72 672.85 138.38 673.75 138.3 675.4 C138.22 677.05 139 679.35 138.9 681.3 C138.8 683.25 138.28 685.55 137.7 687.1 C137.12 688.65 136.47 689.82 135.4 690.6 C134.33 691.38 132.77 691.8 131.3 691.8 C129.83 691.8 128.17 691.28 126.6 690.6 C125.03 689.92 123.17 688.97 121.9 687.7 C120.63 686.43 119.58 684.55 119 683 C118.42 681.45 118.3 679.95 118.4 678.4 C118.5 676.85 119.3 675.17 119.6 673.7 C119.9 672.23 119.52 670.77 120.2 669.6Z"/>
<path fill="#c4878e" d="M143.66 638.09 L143.03 642.32 L144.2 645.19 L142.21 652.55 L142.96 661.32 L145.36 667.53 L146.66 668.33 L152.91 670.07 L165.71 668.47 L173.18 665.28 L176.25 660.37 L176.7 658.7 L176.7 652.3 L176.15 650.47 L172.24 644.91 L161.02 640.07 L158.28 636.64 L156.17 635.43 L149.3 634.7 L144.97 636.02Z"/>
<path fill="#a24b72" d="M145.43 638.42 L144.81 642.09 L146.16 645.14 L144 652.41 L144.6 660.41 L146.64 666.26 L152.69 668.29 L165.49 666.69 L171.99 663.93 L174.9 658.7 L174.9 652.3 L171.13 646.32 L159.87 641.51 L156.87 637.76 L155.91 637.22 L149.74 636.44 L146.54 637.24Z"/>
<path fill="#7a0a50" d="M146.9 638.7 C147.53 638.03 148.63 637.9 150.1 637.9 C151.57 637.9 154.23 637.9 155.7 638.7 C157.17 639.5 157.57 641.63 158.9 642.7 C160.23 643.77 161.82 644.3 163.7 645.1 C165.58 645.9 168.58 646.3 170.2 647.5 C171.82 648.7 172.87 650.43 173.4 652.3 C173.93 654.17 173.8 656.95 173.4 658.7 C173 660.45 172.35 661.72 171 662.8 C169.65 663.88 167.32 664.67 165.3 665.2 C163.28 665.73 161.03 665.73 158.9 666 C156.77 666.27 154.37 666.93 152.5 666.8 C150.63 666.67 148.77 666.28 147.7 665.2 C146.63 664.12 146.47 662.45 146.1 660.3 C145.73 658.15 145.43 654.3 145.5 652.3 C145.57 650.3 146.12 649.5 146.5 648.3 C146.88 647.1 147.83 646.17 147.8 645.1 C147.77 644.03 146.45 642.97 146.3 641.9 C146.15 640.83 146.27 639.37 146.9 638.7Z"/>
<path fill="#a24b72" d="M123.7 668.4 C124.33 667.62 125.93 666.58 127.2 666.1 C128.47 665.62 129.93 665.12 131.3 665.5 C132.67 665.88 134.53 666.93 135.4 668.4 C136.27 669.87 136.32 672.15 136.5 674.3 C136.68 676.45 136.68 679.27 136.5 681.3 C136.32 683.33 135.98 685.13 135.4 686.5 C134.82 687.87 133.98 689.1 133 689.5 C132.02 689.9 130.77 689.48 129.5 688.9 C128.23 688.32 126.37 687.27 125.4 686 C124.43 684.73 124.08 683.25 123.7 681.3 C123.32 679.35 123.15 676.05 123.1 674.3 C123.05 672.55 123.3 671.78 123.4 670.8 C123.5 669.82 123.07 669.18 123.7 668.4Z"/>
<path fill="#7a0a50" d="M128.9 667.3 C129.43 666.82 130.52 666.22 131.3 666.7 C132.08 667.18 133.12 668.75 133.6 670.2 C134.08 671.65 134.2 673.55 134.2 675.4 C134.2 677.25 133.8 679.63 133.6 681.3 C133.4 682.97 133.48 684.43 133 685.4 C132.52 686.37 131.38 687.1 130.7 687.1 C130.02 687.1 129.38 686.57 128.9 685.4 C128.42 684.23 128.03 681.95 127.8 680.1 C127.57 678.25 127.45 676.05 127.5 674.3 C127.55 672.55 127.87 670.77 128.1 669.6 C128.33 668.43 128.37 667.78 128.9 667.3Z"/>
<path fill="#c4878e" d="M195.9 652.64 C196.85 650.59 198.68 648.21 200.07 647.52 C201.46 646.82 203.08 646.73 204.25 648.47 C205.42 650.21 206.46 653.84 207.09 657.96 C207.73 662.07 208.04 668.65 208.04 673.14 C208.04 677.63 208.11 682.47 207.09 684.91 C206.08 687.34 203.62 688.07 201.97 687.75 C200.33 687.44 198.33 685.76 197.23 683.01 C196.12 680.26 195.8 675.1 195.33 671.24 C194.85 667.38 194.28 662.95 194.38 659.85 C194.47 656.75 194.95 654.7 195.9 652.64Z"/>
<path fill="#a24b72" d="M197.23 653.21 C197.89 649.8 199.54 649.16 200.64 648.85 C201.75 648.53 203.01 649.48 203.87 651.31 C204.72 653.15 205.39 655.9 205.77 659.85 C206.15 663.81 206.27 671.18 206.15 675.04 C206.02 678.9 205.77 681.27 205.01 683.01 C204.25 684.75 202.73 685.85 201.59 685.47 C200.45 685.09 199 683.42 198.18 680.73 C197.35 678.04 196.82 673.93 196.66 669.34 C196.5 664.76 196.56 656.63 197.23 653.21Z"/>
<path fill="#7a0a50" d="M198.18 654.16 C198.65 651.38 200.07 650.68 201.02 650.74 C201.97 650.81 203.24 652.07 203.87 654.54 C204.5 657.01 204.66 661.5 204.82 665.55 C204.98 669.6 205.29 675.92 204.82 678.83 C204.34 681.74 202.92 683.01 201.97 683.01 C201.02 683.01 199.76 681.43 199.12 678.83 C198.49 676.24 198.33 671.56 198.18 667.45 C198.02 663.33 197.7 656.94 198.18 654.16Z"/>
<path fill="#d4e6a6" d="M244.96 662.55 C245.73 660.8 247.81 658.83 250.22 657.3 C252.63 655.77 257.01 654.89 259.42 653.36 C261.82 651.82 262.48 649.42 264.67 648.1 C266.86 646.79 270.15 645.69 272.55 645.47 C274.96 645.26 276.93 645.47 279.12 646.79 C281.31 648.1 284.16 650.73 285.69 653.36 C287.23 655.99 288.1 659.93 288.32 662.55 C288.54 665.18 288.1 666.93 287.01 669.12 C285.91 671.31 283.28 673.72 281.75 675.69 C280.22 677.66 279.78 679.64 277.81 680.95 C275.84 682.26 272.55 683.14 269.93 683.58 C267.3 684.01 264.45 684.23 262.04 683.58 C259.64 682.92 257.66 681.39 255.47 679.64 C253.28 677.88 250.55 675.04 248.91 673.07 C247.26 671.09 246.28 669.56 245.62 667.81 C244.96 666.06 244.2 664.31 244.96 662.55Z"/>
<path fill="#a8c874" d="M263.36 659.93 C264.12 657.74 265.77 653.69 267.3 652.04 C268.83 650.4 270.8 649.85 272.55 650.07 C274.31 650.29 276.82 651.28 277.81 653.36 C278.8 655.44 278.69 659.27 278.47 662.55 C278.25 665.84 277.48 670.66 276.5 673.07 C275.51 675.47 274.09 676.35 272.55 677.01 C271.02 677.66 268.72 677.88 267.3 677.01 C265.88 676.13 264.78 673.72 264.01 671.75 C263.25 669.78 262.81 667.15 262.7 665.18 C262.59 663.21 262.59 662.12 263.36 659.93Z"/>
<path fill="#a8c874" d="M249.17 662.55 C249.72 661.83 251.25 661.18 252.19 661.5 C253.13 661.83 254.53 663.47 254.82 664.53 C255.1 665.58 254.55 667.22 253.9 667.81 C253.24 668.4 251.71 668.4 250.88 668.07 C250.04 667.74 249.19 666.76 248.91 665.84 C248.62 664.92 248.62 663.28 249.17 662.55Z"/>
<path fill="#a8c874" d="M259.15 691.46 C259.64 690.5 261.01 689.51 262.04 689.62 C263.07 689.73 264.82 690.98 265.33 692.12 C265.83 693.26 265.61 695.51 265.07 696.45 C264.52 697.39 263.03 697.94 262.04 697.77 C261.06 697.59 259.64 696.45 259.15 695.4 C258.67 694.35 258.67 692.42 259.15 691.46Z"/>
<path fill="#79a33c" d="M266.64 657.3 C267.3 655.66 268.72 653.36 269.93 652.7 C271.13 652.04 272.99 651.93 273.87 653.36 C274.74 654.78 275.07 658.39 275.18 661.24 C275.29 664.09 275.07 668.14 274.53 670.44 C273.98 672.74 272.88 674.38 271.9 675.04 C270.91 675.69 269.49 675.58 268.61 674.38 C267.74 673.18 267.08 669.78 266.64 667.81 C266.2 665.84 265.99 664.31 265.99 662.55 C265.99 660.8 265.99 658.94 266.64 657.3Z"/>
<path fill="#4b7d10" d="M269.27 661.9 C269.62 661.31 270.58 660.76 271.24 660.98 C271.9 661.2 272.99 662.4 273.21 663.21 C273.43 664.02 272.99 665.29 272.55 665.84 C272.12 666.39 271.15 666.72 270.58 666.5 C270.01 666.28 269.36 665.29 269.14 664.53 C268.92 663.76 268.92 662.49 269.27 661.9Z"/>
<path fill="#e9bda1" d="M227.88 671.75 C228.32 670 230.29 672.23 231.82 671.75 C233.36 671.27 235.55 669.08 237.08 668.86 C238.61 668.64 239.49 668.86 241.02 670.44 C242.55 672.01 244.92 675.26 246.28 678.32 C247.64 681.39 248.82 686.16 249.17 688.83 C249.52 691.5 249.3 693.21 248.38 694.35 C247.46 695.49 245.31 695.88 243.65 695.66 C241.99 695.45 240.15 694.13 238.39 693.04 C236.64 691.94 234.67 690.89 233.14 689.09 C231.61 687.3 230.07 685.15 229.2 682.26 C228.32 679.37 227.45 673.5 227.88 671.75Z"/>
<path fill="#c4878e" d="M227.88 671.75 C228.1 670.48 230.51 671.03 231.82 670.7 C233.14 670.37 234.45 669.39 235.77 669.78 C237.08 670.18 238.18 671.2 239.71 673.07 C241.24 674.93 243.82 678.32 244.96 680.95 C246.1 683.58 246.72 686.93 246.54 688.83 C246.36 690.74 245.05 692.01 243.91 692.38 C242.77 692.75 241.28 692.16 239.71 691.07 C238.13 689.97 235.99 687.93 234.45 685.81 C232.92 683.69 231.61 680.66 230.51 678.32 C229.42 675.98 227.66 673.02 227.88 671.75Z"/>
<path fill="#a24b72" d="M229.2 671.75 C229.53 670.88 231.39 671.75 232.48 671.75 C233.58 671.75 234.34 670.66 235.77 671.75 C237.19 672.85 239.66 675.91 241.02 678.32 C242.38 680.73 243.65 684.41 243.91 686.2 C244.18 688 243.52 688.83 242.6 689.09 C241.68 689.36 239.86 688.88 238.39 687.78 C236.93 686.69 235.11 684.32 233.8 682.53 C232.48 680.73 231.28 678.8 230.51 677.01 C229.74 675.21 228.87 672.63 229.2 671.75Z"/>
<path fill="#7a0a50" d="M231.17 673.07 C231.43 672.34 232.48 671.91 233.14 672.01 C233.8 672.12 234.78 673 235.11 673.72 C235.44 674.45 235.44 675.69 235.11 676.35 C234.78 677.01 233.73 677.66 233.14 677.66 C232.55 677.66 231.89 677.12 231.56 676.35 C231.23 675.58 230.91 673.79 231.17 673.07Z"/>
<path fill="#7a0a50" d="M239.05 682.92 C239.4 682.48 240.43 682.11 241.02 682.26 C241.61 682.42 242.42 683.18 242.6 683.84 C242.77 684.5 242.51 685.77 242.07 686.2 C241.64 686.64 240.5 686.69 239.97 686.47 C239.45 686.25 239.07 685.48 238.92 684.89 C238.77 684.3 238.7 683.36 239.05 682.92Z"/>
<path fill="#e9bda1" d="M259.81 652.7 C259.96 652.31 260.62 651.93 260.99 652.04 C261.36 652.15 261.98 652.92 262.04 653.36 C262.11 653.8 261.72 654.5 261.39 654.67 C261.06 654.85 260.34 654.74 260.07 654.41 C259.81 654.08 259.66 653.09 259.81 652.7Z"/>
</g>
<g clip-path="url(#fre)"><g transform="translate(0 550.7)">
<path fill="#fff" stroke="#777" stroke-width="0.4" d="M41.4 43.4 L43.6 42.6 L46.4 41.7 L48.9 40.3 L46.9 42.6 L44.7 44 L41.9 44.2Z"/>
<path fill="none" stroke="#666" stroke-width="0.5" d="M47.6 58.4 L50.5 65.4 L49.3 69.9 L48.4 71.4"/>
<path fill="none" stroke="#555" stroke-width="0.5" d="M40.45 64.3 L43.6 67.8 L46.9 71.1 L48.8 71.4 L51.7 71 L55.2 76.9 L59.3 83.9 L63.4 88.6 L66.3 92.1 L68 97.9 L69 101 L73.1 103.7 L76.8 109.8 L81.1 115.9 L82.3 122.1 L83.5 128.2 L85.4 132.5 L91.5 131.9 L98.9 128.2 L106.2 125.8 L113.6 123.3 L119.7 120.8 L124.9 116.7 L130.1 114 L134.5 112.3 L138 110.5 L141.5 107.9 L142.4 104.4 L145 102.7 L146.8 100 L148.5 97.4 L150.3 93.9 L148.5 91.3 L145 89.5 L141.5 87.8 L138 86 L136.7 82.5 L136.3 78.1 L135.4 79.9 L133.6 82.5 L131 84.3 L127.5 86 L123.1 86.9 L119.5 87.3 L117.5 86.5 L116.5 83 L115.5 79 L114.3 80 L113.5 83 L112.4 80.5 L110.1 75.5 L107 71.5 L105.4 69.9 L102.8 66.5 L101.9 65.5 L102.5 64.4 L104.5 62.5 L107.2 61.7 L111.2 62.9 L113.5 65.5 L115.3 68.5 L117.9 72 L120 73.4 L123.1 73.8 L127.5 75.9 L131 76.4 L134.5 75.1 L137.2 74.9 L138.5 76.5 L139.8 79.3 L142.4 80.9 L149.4 82 L158.2 82.4 L166.7 82.1 L170 81.6 L176.2 81.2 L178.4 83.1 L181 85.8 L183.6 88.4 L186.3 88.8 L188 91 L190.6 91.9 L193.7 91 L189.8 93.6 L188.9 95.4 L191.5 98 L195 99.8 L198.5 98 L200.3 94.5 L202.9 94.5 L202 98 L202.9 105 L203.3 110 L205.2 113.4 L207.5 121.5 L210.4 128.5 L213.4 134.4 L215.7 140.2 L218 146.1 L221 150.9 L225 148.4 L227.4 146.1 L230.3 142.6 L230.9 136.7 L232 130.9 L232.6 125 L233.2 120.4 L236.7 118 L241.4 114.5 L246 109.9 L251.9 105.2 L256.6 100.5 L260 98.2 L263.8 95.2 L269.5 94.7 L273.8 89.5 L274.2 93.3 L277.6 92.8 L279.5 96.2 L282.8 101.4 L286.6 105.6 L288.8 108 L289.4 109.7 L290 113.8 L288.8 119 L292.3 120.2 L295.8 117.8 L298.2 116.7 L299.6 113.8 L300.5 116.7 L302.9 117.8 L303.4 124.3 L304.6 128.4 L306.4 133 L306.6 137.7 L306.4 142.4 L306.4 143.5 L305.5 148.8 L306.1 151.7 L308.7 152.3 L311 154 L313.4 155.8 L313.9 160.4 L314.5 164.5 L315.7 168 L317.5 171.5 L319.2 173.9 L322.4 175.2 L322.4 178.2 L320.4 177.4 L318 176.2 L314.5 174.5 L311.6 172.1 L308.7 170.4 L305.2 167.4 L304 165.1 L301.7 163.4 L298.2 162.5 L294.7 161.6 L293.2 161 L292.8 161.8 L293.2 162.8 L294.7 165.1 L297.6 168 L300.5 169.8 L302.9 172.7 L305.2 175 L306.9 177.4 L308.1 180.9 L308.7 183.25 L82.9 183.25 L85.4 180.9 L91.5 174.8 L98.9 168.7 L106.2 160.1 L109.9 152.7 L113.6 146.6 L115.4 139.2 L113.6 136.2 L103.8 138 L95.2 140.5 L89 141.7 L86.6 139.2 L81.7 136.8 L84.1 133.1 L80.5 128.2 L74.3 123.3 L69.4 119.6 L65.8 112.3 L60.8 107.4 L59.6 100 L58.7 97.9 L55.2 93.2 L52.8 88.6 L51.7 83.9 L48.2 76.9 L44.7 71 L41.2 66.4 L40.45 66.2Z M322.4 135.4 L321.5 135.4 L319.2 133.6 L315.4 132.4 L315.4 129.8 L312.2 130.1 L311.9 133 L310.4 137.7 L308.7 143.5 L309.3 147 L311.6 151.7 L314.5 154.6 L318 156.4 L322.4 158.1Z M40.45 38.9 L44.7 38.1 L48.1 36.7 L49.7 35.9 L52.5 36.1 L54.8 35.6 L55.9 36.4 L54.5 37.3 L54.8 41.2 L54.5 44.5 L52.5 48.4 L50.8 52.3 L49.2 56.3 L47.5 58.2 L43.6 58.8 L40.45 58.8Z M231.5 144.6 L233.5 146.3 L235.8 149.5 L237.8 153 L238.4 155.8 L237.3 158.6 L234.6 160 L232.3 159.2 L231 156 L230.8 151 L231 147Z M124.2 133.2 L125.5 132.5 L127.8 132.6 L128.6 133.4 L127.2 134.1 L125 134Z M282.6 129 L283.4 129.2 L283.3 133 L282.6 136.5 L282.1 136.4 L282.3 132.5Z M281.6 139.8 L282.2 139.9 L282.1 141.3 L281.5 141.2Z M285.3 150.8 L286 151 L285.8 152.3 L285.1 152Z M286.6 154.3 L287.4 154.5 L287.6 156 L286.8 155.8Z"/>
</g></g>
<path fill="none" stroke="#111" stroke-width="1.2" d="M137.91 634.35 H144.72 M141.31 630.95 V637.75 M147.96 634.35 H154.76 M151.36 630.95 V637.75 M158 634.35 H164.81 M161.41 630.95 V637.75 M168.05 634.35 H174.85 M171.45 630.95 V637.75 M147.96 644.38 H154.76 M151.36 640.98 V647.77 M158 654.4 H164.81 M161.41 651 V657.8 M127.87 664.43 H134.67 M131.27 661.03 V667.83 M127.87 674.45 H134.67 M131.27 671.05 V677.85 M127.87 684.48 H134.67 M131.27 681.08 V687.88 M127.87 694.5 H134.67 M131.27 691.1 V697.9 M137.91 694.5 H144.72 M141.31 691.1 V697.9 M87.69 684.48 H94.49 M91.09 681.08 V687.88 M97.73 684.48 H104.53 M101.13 681.08 V687.88 M198.18 644.38 H204.98 M201.58 640.98 V647.77 M198.18 654.4 H204.98 M201.58 651 V657.8 M198.18 664.43 H204.98 M201.58 661.03 V667.83 M198.18 674.45 H204.98 M201.58 671.05 V677.85 M198.18 684.48 H204.98 M201.58 681.08 V687.88"/>
<path fill="none" stroke="#cfcfcf" stroke-width="0.8" d="M70.5 572.3 V565.9 M70.5 734.55 V740.95 M110.68 572.3 V565.9 M110.68 734.55 V740.95 M150.86 572.3 V565.9 M150.86 734.55 V740.95 M191.04 572.3 V565.9 M191.04 734.55 V740.95 M231.22 572.3 V565.9 M231.22 734.55 V740.95 M271.4 572.3 V565.9 M271.4 734.55 V740.95 M311.58 572.3 V565.9 M311.58 734.55 V740.95 M39.85 694.1 H33.95 M323 694.1 H328.9 M39.85 654 H33.95 M323 654 H328.9 M39.85 613.9 H33.95 M323 613.9 H328.9 M39.85 573.8 H33.95 M323 573.8 H328.9"/>
<rect x="40.45" y="572.9" width="281.95" height="161.05" fill="none" stroke="#2e2e2e" stroke-width="1.2"/>
<text transform="translate(70.5 750.65) scale(0.84 1)" text-anchor="middle" font-size="11.4" fill="#333">40°E</text>
<text transform="translate(110.68 750.65) scale(0.84 1)" text-anchor="middle" font-size="11.4" fill="#333">50°E</text>
<text transform="translate(150.86 750.65) scale(0.84 1)" text-anchor="middle" font-size="11.4" fill="#333">60°E</text>
<text transform="translate(191.04 750.65) scale(0.84 1)" text-anchor="middle" font-size="11.4" fill="#333">70°E</text>
<text transform="translate(231.22 750.65) scale(0.84 1)" text-anchor="middle" font-size="11.4" fill="#333">80°E</text>
<text transform="translate(271.4 750.65) scale(0.84 1)" text-anchor="middle" font-size="11.4" fill="#333">90°E</text>
<text transform="translate(311.58 750.65) scale(0.84 1)" text-anchor="middle" font-size="11.4" fill="#333">100°E</text>
<text transform="translate(32.75 694.1) rotate(-90) scale(0.84 1)" text-anchor="middle" font-size="11.4" fill="#333">10°N</text>
<text transform="translate(32.75 654) rotate(-90) scale(0.84 1)" text-anchor="middle" font-size="11.4" fill="#333">20°N</text>
<text transform="translate(32.75 613.9) rotate(-90) scale(0.84 1)" text-anchor="middle" font-size="11.4" fill="#333">30°N</text>
<text transform="translate(32.75 573.8) rotate(-90) scale(0.84 1)" text-anchor="middle" font-size="11.4" fill="#333">40°N</text>
<text x="-0.5" y="564.2" font-size="18" font-weight="bold" fill="#000">e</text>
<text x="41.4" y="768.9" font-size="11.32" font-weight="bold" fill="#111" xml:space="preserve"><tspan>Trend in pre-monsoon ACE (10</tspan><tspan dx="0.8" dy="-5" font-size="8.4">2</tspan><tspan dx="1.6" dy="5">knots</tspan><tspan dx="1.4" dy="-5" font-size="8.4">2</tspan><tspan dx="5" dy="5">per unit GPI)</tspan></text>
<rect x="40.65" y="779.85" width="13.4" height="6.4" fill="#4b7d10" stroke="#7a7a7a" stroke-width="0.9"/>
<text transform="translate(56.6 787) scale(0.86 1)" font-size="10.5" fill="#222">&lt;-24</text>
<rect x="40.65" y="794.75" width="13.4" height="6.4" fill="#79a33c" stroke="#7a7a7a" stroke-width="0.9"/>
<text transform="translate(56.6 801.9) scale(0.86 1)" font-size="10.5" fill="#222">-24 ~ -18</text>
<rect x="97.15" y="779.85" width="13.4" height="6.4" fill="#a8c874" stroke="#7a7a7a" stroke-width="0.9"/>
<text transform="translate(113.1 787) scale(0.86 1)" font-size="10.5" fill="#222">-18 ~ -12</text>
<rect x="97.15" y="794.75" width="13.4" height="6.4" fill="#d4e6a6" stroke="#7a7a7a" stroke-width="0.9"/>
<text transform="translate(113.1 801.9) scale(0.86 1)" font-size="10.5" fill="#222">-12 ~ -6</text>
<rect x="153.25" y="779.85" width="13.4" height="6.4" fill="#ffffc4" stroke="#7a7a7a" stroke-width="0.9"/>
<text transform="translate(169.2 787) scale(0.86 1)" font-size="10.5" fill="#222">-6 ~ 6</text>
<rect x="153.25" y="794.75" width="13.4" height="6.4" fill="#e9bda1" stroke="#7a7a7a" stroke-width="0.9"/>
<text transform="translate(169.2 801.9) scale(0.86 1)" font-size="10.5" fill="#222">6 ~ 12</text>
<rect x="198.35" y="779.85" width="13.4" height="6.4" fill="#c4878e" stroke="#7a7a7a" stroke-width="0.9"/>
<text transform="translate(214.3 787) scale(0.86 1)" font-size="10.5" fill="#222">12 ~ 18</text>
<rect x="198.35" y="794.75" width="13.4" height="6.4" fill="#a24b72" stroke="#7a7a7a" stroke-width="0.9"/>
<text transform="translate(214.3 801.9) scale(0.86 1)" font-size="10.5" fill="#222">18 ~ 24</text>
<rect x="248.05" y="779.85" width="13.4" height="6.4" fill="#7a0a50" stroke="#7a7a7a" stroke-width="0.9"/>
<text transform="translate(264 787) scale(0.86 1)" font-size="10.5" fill="#222">&gt; 24</text>
<text x="355.8" y="567" font-size="18" font-weight="bold" fill="#000">f</text>
<path fill="none" stroke="#ebebeb" stroke-width="0.8" d="M465.77 568.4 V774.2 M527.05 568.4 V774.2 M588.33 568.4 V774.2 M649.6 568.4 V774.2 M404.5 733.06 H679.5 M404.5 691.92 H679.5 M404.5 650.78 H679.5 M404.5 609.64 H679.5"/>
<path fill="#fbd9d6" d="M410.63 690.19 L413.69 689.81 L416.75 689.44 L419.82 689.06 L422.88 688.69 L425.95 688.31 L429.01 687.93 L432.07 687.55 L435.14 687.16 L438.2 686.78 L441.26 686.39 L444.33 686 L447.39 685.61 L450.46 685.21 L453.52 684.82 L456.58 684.42 L459.65 684.01 L462.71 683.61 L465.77 683.2 L468.84 682.79 L471.9 682.37 L474.97 681.95 L478.03 681.52 L481.09 681.09 L484.16 680.66 L487.22 680.22 L490.29 679.78 L493.35 679.32 L496.41 678.87 L499.48 678.4 L502.54 677.93 L505.6 677.45 L508.67 676.97 L511.73 676.47 L514.79 675.97 L517.86 675.46 L520.92 674.94 L523.99 674.41 L527.05 673.87 L530.11 673.32 L533.18 672.76 L536.24 672.19 L539.31 671.61 L542.37 671.02 L545.43 670.42 L548.5 669.81 L551.56 669.19 L554.62 668.56 L557.69 667.91 L560.75 667.26 L563.82 666.6 L566.88 665.94 L569.94 665.26 L573.01 664.57 L576.07 663.88 L579.13 663.18 L582.2 662.48 L585.26 661.76 L588.33 661.04 L591.39 660.32 L594.45 659.59 L597.52 658.85 L600.58 658.11 L603.64 657.36 L606.71 656.61 L609.77 655.86 L612.84 655.1 L615.9 654.34 L618.96 653.57 L622.03 652.8 L625.09 652.03 L628.15 651.26 L631.22 650.48 L634.28 649.7 L637.35 648.92 L640.41 648.14 L643.47 647.35 L646.54 646.57 L649.6 645.78 L652.66 644.99 L655.73 644.2 L658.79 643.4 L661.86 642.61 L664.92 641.81 L667.98 641.01 L667.98 664.55 L664.92 664.93 L661.86 665.3 L658.79 665.68 L655.73 666.05 L652.66 666.43 L649.6 666.81 L646.54 667.19 L643.47 667.58 L640.41 667.96 L637.35 668.35 L634.28 668.74 L631.22 669.13 L628.15 669.53 L625.09 669.92 L622.03 670.32 L618.96 670.73 L615.9 671.13 L612.84 671.54 L609.77 671.95 L606.71 672.37 L603.64 672.79 L600.58 673.22 L597.52 673.65 L594.45 674.08 L591.39 674.52 L588.33 674.97 L585.26 675.42 L582.2 675.87 L579.13 676.34 L576.07 676.81 L573.01 677.29 L569.94 677.77 L566.88 678.27 L563.82 678.77 L560.75 679.28 L557.69 679.8 L554.62 680.33 L551.56 680.87 L548.5 681.42 L545.43 681.98 L542.37 682.55 L539.31 683.13 L536.24 683.72 L533.18 684.32 L530.11 684.93 L527.05 685.55 L523.99 686.19 L520.92 686.83 L517.86 687.48 L514.79 688.14 L511.73 688.8 L508.67 689.48 L505.6 690.17 L502.54 690.86 L499.48 691.56 L496.41 692.27 L493.35 692.98 L490.29 693.7 L487.22 694.42 L484.16 695.16 L481.09 695.89 L478.03 696.63 L474.97 697.38 L471.9 698.13 L468.84 698.88 L465.77 699.64 L462.71 700.4 L459.65 701.17 L456.58 701.94 L453.52 702.71 L450.46 703.48 L447.39 704.26 L444.33 705.04 L441.26 705.82 L438.2 706.6 L435.14 707.39 L432.07 708.17 L429.01 708.96 L425.95 709.75 L422.88 710.55 L419.82 711.34 L416.75 712.13 L413.69 712.93 L410.63 713.73Z"/>
<path fill="none" stroke="#a02628" stroke-width="1.75" stroke-dasharray="1.6 1.75" d="M410.63 656.29 L416.75 706.32 L422.88 699.82 L429.01 704.1 L435.14 675.71 L441.26 718 L447.39 703.44 L453.52 689.45 L459.65 701.96 L465.77 651.6 L471.9 693.89 L478.03 699 L484.16 695.62 L490.29 702.62 L496.41 710.02 L502.54 698.01 L508.67 703.11 L514.79 677.11 L520.92 677.11 L527.05 697.1 L533.18 677.11 L539.31 689.45 L545.43 707.55 L551.56 647.49 L557.69 681.22 L563.82 646.67 L569.94 614.08 L576.07 684.51 L582.2 668.55 L588.33 642.22 L594.45 668.88 L600.58 707.55 L606.71 667.24 L612.84 678.18 L618.96 644.61 L625.09 661.15 L631.22 663.53 L637.35 604.13 L643.47 693.24 L649.6 654.89 L655.73 607.17 L661.86 646.67 L667.98 683.69"/>
<path fill="none" stroke="#9e2a2b" stroke-width="1.6" d="M410.63 701.96 L667.98 652.78"/>
<rect x="404.5" y="568.4" width="275" height="205.8" fill="none" stroke="#808080" stroke-width="0.9"/>
<text transform="translate(400.6 778.1) scale(0.86 1)" text-anchor="end" font-size="11" fill="#333">0</text>
<text transform="translate(400.6 736.96) scale(0.86 1)" text-anchor="end" font-size="11" fill="#333">0.5</text>
<text transform="translate(400.6 695.82) scale(0.86 1)" text-anchor="end" font-size="11" fill="#333">1</text>
<text transform="translate(400.6 654.68) scale(0.86 1)" text-anchor="end" font-size="11" fill="#333">1.5</text>
<text transform="translate(400.6 613.54) scale(0.86 1)" text-anchor="end" font-size="11" fill="#333">2</text>
<text transform="translate(400.6 572.4) scale(0.86 1)" text-anchor="end" font-size="11" fill="#333">2.5</text>
<text transform="translate(404.5 790) scale(0.86 1)" text-anchor="middle" font-size="11" fill="#333">1980</text>
<text transform="translate(465.77 790) scale(0.86 1)" text-anchor="middle" font-size="11" fill="#333">1990</text>
<text transform="translate(527.05 790) scale(0.86 1)" text-anchor="middle" font-size="11" fill="#333">2000</text>
<text transform="translate(588.33 790) scale(0.86 1)" text-anchor="middle" font-size="11" fill="#333">2010</text>
<text transform="translate(649.6 790) scale(0.86 1)" text-anchor="middle" font-size="11" fill="#333">2020</text>
<text transform="translate(542.2 803.6) scale(0.9 1)" text-anchor="middle" font-size="11" fill="#333">Year</text>
<text transform="translate(382.2 669.2) rotate(-90) scale(0.867 1)" text-anchor="middle" font-size="10.9" fill="#333">Pre-monsoon season GPI</text>
</svg>
</body></html>
